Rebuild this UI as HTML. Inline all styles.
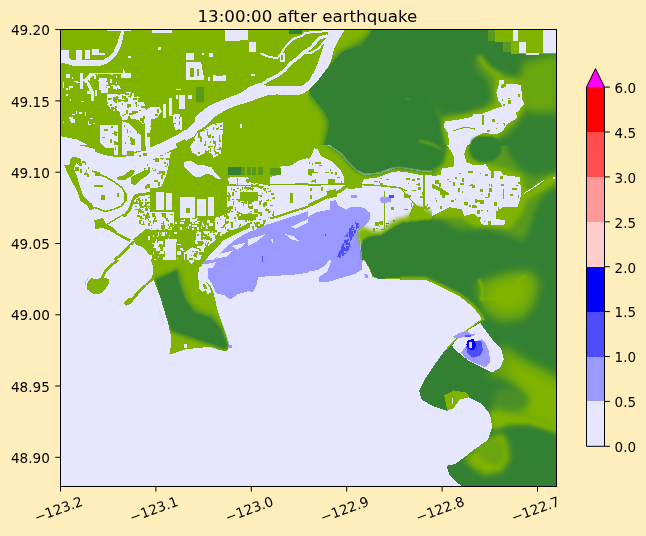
<!DOCTYPE html><html><head><meta charset="utf-8"><title>13:00:00 after earthquake</title><style>html,body{margin:0;padding:0;background:#ffeebb;}body{width:646px;height:536px;overflow:hidden}svg{display:block}text{font-family:"DejaVu Sans","Liberation Sans",sans-serif;fill:#000}</style></head><body>
<svg width="646" height="536" viewBox="0 0 646 536">
<defs><clipPath id="ax"><rect x="61" y="30" width="495" height="456"/></clipPath>
<filter id="bl1" x="-30%" y="-30%" width="160%" height="160%"><feGaussianBlur stdDeviation="1"/></filter>
<filter id="bl2" x="-30%" y="-30%" width="160%" height="160%"><feGaussianBlur stdDeviation="2"/></filter>
<filter id="bl3" x="-30%" y="-30%" width="160%" height="160%"><feGaussianBlur stdDeviation="3"/></filter>
<filter id="bl4" x="-30%" y="-30%" width="160%" height="160%"><feGaussianBlur stdDeviation="4"/></filter>
<filter id="bl6" x="-30%" y="-30%" width="160%" height="160%"><feGaussianBlur stdDeviation="6"/></filter>
<filter id="bl8" x="-30%" y="-30%" width="160%" height="160%"><feGaussianBlur stdDeviation="8"/></filter>
</defs>
<rect width="646" height="536" fill="#ffeebb"/>
<g clip-path="url(#ax)" shape-rendering="crispEdges">
<rect x="60" y="29" width="497" height="459" fill="#e6e6ff"/>
<clipPath id="t1"><rect x="60.0" y="30.0" width="124" height="115"/></clipPath><g clip-path="url(#t1)">
<rect x="60.0" y="30.0" width="124" height="115" fill="#80b300"/>
<polygon points="107.2,30.0 130.8,30.0 130.8,31.1 107.2,31.1" fill="#e6e6ff"/>
<polygon points="152.3,30.0 171.6,30.0 171.6,33.0 152.3,33.0" fill="#e6e6ff"/>
<polygon points="121.6,30.0 124.4,30.0 122.7,39.7 120.1,48.2 116.2,55.3 111.5,60.5 106.1,63.9 98.6,66.1 75.0,66.5 68.6,64.3 60.0,62.6 60.0,49.7 68.6,49.7 68.6,56.8 71.8,60.0 102.9,60.0 109.4,56.2 113.6,51.5 117.5,42.9 119.7,35.4" fill="#e6e6ff"/>
<rect x="76.1" y="49.7" width="5.4" height="10.3" fill="#e6e6ff"/>
<rect x="85.3" y="50.4" width="4.7" height="8.6" fill="#e6e6ff"/>
<rect x="92.2" y="48.9" width="6.9" height="6.4" fill="#e6e6ff"/>
<rect x="99.1" y="53.2" width="6.0" height="2.1" fill="#e6e6ff"/>
<rect x="157.6" y="47.2" width="3.2" height="2.6" fill="#e6e6ff"/>
<rect x="128.2" y="55.8" width="2.6" height="2.1" fill="#e6e6ff"/>
<rect x="80.4" y="72.9" width="2.8" height="16.1" fill="#e6e6ff"/>
<polygon points="83.2,80.4 90.0,72.9 92.2,72.9 92.2,76.1 85.8,83.6" fill="#e6e6ff"/>
<polygon points="85.8,81.5 89.0,81.5 94.3,92.2 94.3,100.8 91.1,100.8 91.1,94.4" fill="#e6e6ff"/>
<rect x="92.2" y="72.9" width="3.2" height="3.2" fill="#e6e6ff"/>
<rect x="98.6" y="78.3" width="7.5" height="16.1" fill="#e6e6ff"/>
<rect x="101.8" y="94.4" width="4.3" height="6.4" fill="#e6e6ff"/>
<rect x="95.4" y="72.5" width="25.8" height="1.3" fill="#e6e6ff"/>
<rect x="121.2" y="72.9" width="9.7" height="5.4" fill="#e6e6ff"/>
<rect x="62.6" y="81.5" width="1.3" height="6.4" fill="#e6e6ff"/>
<rect x="68.6" y="86.2" width="4.3" height="1.3" fill="#e6e6ff"/>
<rect x="116.9" y="84.7" width="2.1" height="3.2" fill="#e6e6ff"/>
<rect x="175.9" y="89.0" width="5.4" height="2.1" fill="#e6e6ff"/>
<polygon points="108.3,94.4 134.0,92.2 137.3,100.8 145.8,105.1 145.8,115.8 150.1,115.8 152.3,111.5 160.9,105.1 166.2,104.0 166.2,114.8 152.3,116.9 151.2,124.4 151.2,145.0 100.8,145.0 100.8,124.4 106.1,123.3 115.8,122.3 116.9,111.5 109.4,103.0" fill="#e6e6ff"/>
<path d="M113,101h2v2h-2zM113,98h3v1h-3zM140,126h1v3h-1zM122,113h1v3h-1zM132,123h1v3h-1zM102,130h4v3h-4zM124,126h1v1h-1zM109,128h1v2h-1zM138,110h3v2h-3zM116,136h2v2h-2zM149,137h1v4h-1zM137,104h4v1h-4zM133,124h3v1h-3zM113,136h2v1h-2zM123,116h2v1h-2zM134,136h1v4h-1zM141,117h2v2h-2zM148,124h2v1h-2zM141,103h1v1h-1zM112,135h2v1h-2zM105,123h1v2h-1zM148,142h1v1h-1zM125,120h2v2h-2zM124,94h2v4h-2zM108,94h2v3h-2zM153,111h3v3h-3zM105,136h2v2h-2zM124,127h2v1h-2zM126,125h2v1h-2zM109,137h2v1h-2zM121,96h2v2h-2zM125,104h2v4h-2zM110,143h2v2h-2zM139,114h1v2h-1zM139,130h1v2h-1zM119,110h2v2h-2zM117,135h3v1h-3zM114,105h4v1h-4zM122,137h1v2h-1zM118,110h4v1h-4zM124,109h4v1h-4zM135,103h3v1h-3zM153,112h1v2h-1zM125,105h2v2h-2zM140,122h2v1h-2zM105,125h1v4h-1zM112,134h2v3h-2zM139,121h3v2h-3zM126,103h1v1h-1zM143,111h4v3h-4zM141,115h3v4h-3zM138,140h1v2h-1zM143,130h4v4h-4zM137,133h2v1h-2zM101,139h3v2h-3zM128,127h1v1h-1zM127,131h1v3h-1zM161,106h2v1h-2zM133,116h2v4h-2zM120,140h1v3h-1zM164,112h1v3h-1zM139,129h1v3h-1zM136,104h2v1h-2zM161,104h1v4h-1zM142,115h2v1h-2zM137,123h2v4h-2zM124,120h2v4h-2zM138,143h2v1h-2zM115,108h2v4h-2zM108,94h2v4h-2zM143,119h2v2h-2zM125,142h1v2h-1zM145,115h4v3h-4zM115,139h2v1h-2zM147,123h1v4h-1zM140,137h1v2h-1zM142,110h2v2h-2zM127,123h2v4h-2zM154,109h4v3h-4zM140,108h1v2h-1zM118,103h1v4h-1zM140,102h3v2h-3zM119,121h2v1h-2zM123,129h2v1h-2zM115,118h3v1h-3zM148,140h3v2h-3zM123,114h2v2h-2zM116,108h2v4h-2zM127,93h1v3h-1zM124,128h1v2h-1zM106,135h1v2h-1zM113,133h1v3h-1zM135,130h3v2h-3zM123,115h1v1h-1zM136,144h2v2h-2zM128,131h1v2h-1zM118,107h2v4h-2zM137,133h3v3h-3zM118,134h1v1h-1zM136,121h2v2h-2zM147,141h2v2h-2zM135,101h2v4h-2zM113,144h3v2h-3zM107,133h3v2h-3zM115,130h2v1h-2zM134,120h1v2h-1zM130,116h2v1h-2zM129,92h1v4h-1zM132,136h3v2h-3zM103,126h1v4h-1zM144,105h2v2h-2zM113,95h2v1h-2zM128,114h1v2h-1zM142,125h4v1h-4zM109,122h1v2h-1zM133,120h3v2h-3zM109,138h2v2h-2zM129,120h1v4h-1zM117,128h4v2h-4zM110,101h2v1h-2zM112,101h1v1h-1zM129,131h3v2h-3zM131,121h3v1h-3zM122,116h1v2h-1zM151,117h2v1h-2zM129,96h1v2h-1zM138,139h1v4h-1zM146,129h4v3h-4zM144,137h2v2h-2zM130,136h2v4h-2zM142,109h3v3h-3zM123,133h2v1h-2zM135,117h1v2h-1zM114,101h4v1h-4zM126,96h3v1h-3zM135,116h2v2h-2zM164,104h1v3h-1zM141,114h1v2h-1zM102,138h1v2h-1zM133,112h4v1h-4zM133,94h3v2h-3zM148,140h2v1h-2zM125,120h3v2h-3zM135,127h1v4h-1zM106,123h3v1h-3zM121,144h1v1h-1zM145,123h1v2h-1zM128,103h1v2h-1zM131,112h4v2h-4zM113,122h4v2h-4zM103,131h3v1h-3zM129,138h1v1h-1zM130,143h2v2h-2zM138,129h1v1h-1zM132,99h4v3h-4zM138,122h1v4h-1zM139,124h1v3h-1zM137,133h1v2h-1zM157,109h1v1h-1zM129,108h2v3h-2zM126,126h2v4h-2zM111,121h1v4h-1zM140,136h3v1h-3zM113,139h1v2h-1zM101,124h4v1h-4zM155,113h1v4h-1zM111,102h2v4h-2zM136,139h4v2h-4zM108,129h1v2h-1zM132,129h2v2h-2zM130,100h4v2h-4zM125,136h1v2h-1zM132,115h1v4h-1zM136,111h4v4h-4zM120,101h1v3h-1zM115,104h4v4h-4zM139,110h2v1h-2zM127,118h3v3h-3zM117,142h1v1h-1zM127,95h3v1h-3zM107,135h3v3h-3zM104,125h3v3h-3zM132,133h3v2h-3zM121,97h3v2h-3zM126,138h1v4h-1zM122,98h3v2h-3zM124,121h3v4h-3zM123,97h4v1h-4zM101,124h1v2h-1zM134,141h4v2h-4zM111,134h4v1h-4zM148,139h3v4h-3zM137,127h4v4h-4z" fill="#80b300"/>
<polygon points="151.2,116.9 167.3,114.8 169.4,98.7 172.7,98.7 172.7,115.8 184.0,115.8 184.0,135.2 180.2,137.3 151.2,137.3" fill="#e6e6ff"/>
<path d="M156,132h1v1h-1zM177,136h3v1h-3zM169,109h2v2h-2zM178,117h3v1h-3zM179,116h1v1h-1zM161,127h2v2h-2zM153,127h2v4h-2zM161,136h2v2h-2zM154,121h4v1h-4zM151,121h1v1h-1zM162,117h1v3h-1zM172,118h2v1h-2zM183,131h2v1h-2zM171,113h3v4h-3zM165,131h1v4h-1zM157,133h3v2h-3zM182,126h2v2h-2zM176,127h1v1h-1zM159,120h2v2h-2zM159,129h4v3h-4zM167,126h4v1h-4zM175,134h1v2h-1zM160,128h4v1h-4zM167,118h1v2h-1zM155,120h4v1h-4zM174,134h1v3h-1zM178,125h1v4h-1zM178,129h1v1h-1zM173,125h4v1h-4zM152,119h2v1h-2zM157,123h4v1h-4zM152,120h1v2h-1zM178,127h3v2h-3zM165,131h2v2h-2zM160,130h1v1h-1zM164,128h1v3h-1zM170,122h2v2h-2zM152,128h4v2h-4zM173,120h2v4h-2zM169,123h1v4h-1zM172,116h2v1h-2zM174,132h1v3h-1zM151,120h4v1h-4zM176,130h4v2h-4zM179,134h2v1h-2zM175,120h1v2h-1zM167,134h1v2h-1zM151,119h2v1h-2zM156,126h1v4h-1zM176,130h4v2h-4zM176,132h4v4h-4zM176,135h4v3h-4zM172,117h2v3h-2zM176,122h1v3h-1zM170,99h1v2h-1zM164,123h1v2h-1zM166,130h2v2h-2zM164,123h1v1h-1zM176,129h3v1h-3zM175,126h1v2h-1zM177,125h2v1h-2zM166,127h1v3h-1zM164,122h3v3h-3zM163,126h1v1h-1zM168,122h1v2h-1zM171,106h2v2h-2zM159,127h2v2h-2z" fill="#80b300"/>
<path d="M66,88h2v2h-2zM118,86h2v2h-2zM72,77h1v2h-1zM106,86h2v1h-2zM118,91h1v4h-1zM105,109h2v2h-2zM111,85h3v1h-3zM94,75h2v4h-2zM73,114h2v1h-2zM118,88h3v1h-3zM69,88h1v2h-1zM104,82h4v3h-4zM121,91h3v1h-3zM76,82h4v1h-4zM116,89h1v4h-1zM93,123h3v1h-3zM81,101h3v1h-3zM99,101h4v1h-4zM103,115h2v2h-2zM98,80h3v1h-3zM103,78h4v3h-4zM107,86h3v2h-3zM105,90h4v4h-4zM110,79h2v4h-2zM87,92h4v2h-4zM107,109h2v1h-2zM74,81h4v1h-4zM99,95h2v2h-2zM111,74h2v1h-2zM109,93h4v3h-4zM83,79h2v2h-2zM79,112h3v2h-3zM113,86h4v3h-4zM66,94h2v2h-2zM116,76h1v2h-1zM116,82h1v2h-1zM116,90h4v1h-4zM71,119h4v4h-4zM72,114h2v1h-2zM85,112h1v4h-1zM89,79h1v2h-1zM70,117h2v4h-2zM89,124h2v1h-2zM96,96h1v1h-1zM69,117h4v2h-4zM80,86h1v1h-1zM88,121h1v4h-1zM97,73h1v2h-1zM68,76h2v2h-2zM105,96h2v3h-2zM115,98h1v2h-1zM70,99h1v2h-1zM87,91h4v1h-4zM66,74h4v4h-4zM106,88h2v2h-2zM85,79h2v2h-2zM63,122h1v1h-1zM97,123h1v4h-1zM90,118h3v1h-3zM113,85h2v4h-2zM123,69h1v4h-1zM71,122h1v1h-1zM123,71h2v3h-2zM96,98h2v1h-2zM103,95h3v1h-3zM76,111h1v3h-1z" fill="#e6e6ff"/>
<polygon points="60.0,136.2 77.2,139.4 87.9,145.0 60.0,145.0" fill="#e6e6ff"/>
<polygon points="151.2,137.3 180.2,137.3 184.0,135.2 184.0,145.0 151.2,145.0" fill="#e6e6ff"/>
</g>
<clipPath id="t2"><rect x="60.0" y="145.0" width="124" height="115"/></clipPath><g clip-path="url(#t2)">
<rect x="60.0" y="145.0" width="124" height="115" fill="#e6e6ff"/>
<polygon points="78.2,145.0 102.9,145.0 114.7,151.4 113.6,155.7 108.3,154.7 96.5,149.3 85.8,146.7" fill="#80b300"/>
<rect x="117.5" y="145.0" width="6.9" height="10.7" fill="#80b300"/>
<polygon points="126.5,152.5 134.0,150.4 137.3,152.5 135.1,155.7 126.5,155.7" fill="#80b300"/>
<polygon points="142.6,145.0 148.0,145.0 145.8,149.3 141.5,150.4" fill="#80b300"/>
<rect x="108.3" y="147.1" width="5.4" height="6.4" fill="#80b300"/>
<polygon points="64.3,165.4 69.7,164.3 70.7,157.9 75.0,156.8 81.5,158.9 80.4,163.2 76.1,163.2 73.9,168.6 77.2,177.2 80.4,187.9 83.6,196.5 92.2,204.0 94.3,208.3 90.0,210.5 86.8,205.1 80.4,200.8 77.2,191.1 71.8,181.5 67.5,172.9" fill="#80b300"/>
<path d="M80,164h1v2h-1zM78,164h2v1h-2zM88,167h1v2h-1zM79,163h3v3h-3zM95,174h2v2h-2zM87,174h2v3h-2zM96,172h4v4h-4zM77,162h1v2h-1zM80,171h2v2h-2zM80,169h2v3h-2zM78,162h1v1h-1zM85,162h1v3h-1zM86,170h1v2h-1zM75,167h4v4h-4zM84,173h4v2h-4zM82,161h3v2h-3zM85,172h1v1h-1zM95,171h2v4h-2z" fill="#80b300"/>
<polyline points="92.2,170.8 98.6,174.0 106.1,177.2 113.6,181.5 122.2,187.9 126.1,194.4 125.5,200.8 121.2,206.2 113.6,209.4 105.1,211.5 100.8,209.8 94.3,207.2" fill="none" stroke="#80b300" stroke-width="1.6"/>
<rect x="94.3" y="185.1" width="8.6" height="1.7" fill="#80b300"/>
<rect x="100.8" y="195.4" width="4.3" height="4.3" fill="#80b300"/>
<rect x="116.9" y="193.3" width="2.1" height="3.2" fill="#80b300"/>
<rect x="123.7" y="193.3" width="2.8" height="7.5" fill="#80b300"/>
<polygon points="116.9,177.2 124.4,175.0 130.8,169.7 135.1,170.8 133.0,175.0 124.4,180.4 117.9,180.4" fill="#80b300"/>
<polygon points="130.8,177.2 139.4,172.9 145.8,169.7 151.2,170.8 148.0,175.0 141.5,179.3 135.1,185.8 130.8,183.6" fill="#80b300"/>
<polygon points="145.8,184.7 152.3,183.6 150.1,187.9 144.8,189.0" fill="#80b300"/>
<path d="M163,160h2v2h-2zM165,158h2v1h-2zM164,157h1v1h-1zM161,162h1v2h-1zM142,159h3v1h-3zM160,155h4v2h-4zM145,157h3v4h-3zM161,167h1v1h-1zM162,167h2v3h-2zM157,160h1v4h-1zM149,163h1v1h-1zM147,158h2v3h-2zM137,159h4v3h-4zM151,160h2v1h-2zM140,164h1v4h-1zM154,165h2v2h-2zM161,163h2v2h-2zM165,155h4v1h-4zM155,159h1v1h-1zM140,157h2v1h-2zM139,160h1v1h-1zM154,167h1v2h-1zM156,155h1v3h-1zM141,156h2v2h-2zM146,158h3v1h-3zM154,165h3v2h-3zM140,161h1v4h-1zM155,159h4v1h-4zM165,161h3v2h-3zM166,153h2v1h-2zM154,154h2v2h-2zM146,165h1v4h-1zM154,162h1v3h-1zM154,158h1v4h-1zM163,168h3v1h-3zM138,160h2v1h-2zM153,155h1v4h-1zM165,152h1v1h-1zM156,167h3v3h-3zM150,155h2v2h-2zM155,164h1v1h-1zM165,156h4v3h-4z" fill="#80b300"/>
<polygon points="184.0,151.4 175.9,152.5 169.4,157.9 166.2,166.5 165.2,177.2 167.3,183.6 160.9,187.9 154.4,191.1 145.8,192.6 135.1,193.9 131.9,198.6 129.1,207.2 124.4,214.1 122.7,216.2 124.8,217.5 130.8,210.5 134.7,199.7 139.8,196.1 150.1,194.8 160.9,193.3 167.3,191.1 171.6,207.2 184.0,209.4" fill="#80b300"/>
<rect x="175.9" y="196.5" width="2.6" height="12.9" fill="#e6e6ff"/>
<path d="M145,218h1v2h-1zM136,200h1v1h-1zM140,216h2v2h-2zM180,205h3v2h-3zM147,206h4v1h-4zM172,217h2v2h-2zM182,210h4v1h-4zM160,216h1v3h-1zM179,207h1v2h-1zM138,210h4v2h-4zM142,209h1v1h-1zM139,209h2v1h-2zM156,217h1v1h-1zM163,220h1v2h-1zM145,203h2v2h-2zM168,219h1v1h-1zM148,197h3v1h-3zM134,202h3v2h-3zM147,212h1v1h-1zM148,197h3v1h-3zM140,218h4v1h-4zM176,220h2v2h-2zM153,217h2v2h-2zM138,198h2v3h-2zM172,203h4v3h-4zM159,208h4v1h-4zM148,206h1v2h-1zM173,216h1v2h-1zM161,213h2v4h-2zM153,226h1v4h-1zM148,202h3v1h-3zM166,197h2v1h-2zM143,221h1v4h-1zM172,201h2v1h-2zM180,199h2v1h-2zM140,206h4v2h-4zM143,206h1v1h-1zM153,228h2v1h-2zM148,223h2v3h-2zM172,214h3v2h-3zM164,201h1v2h-1zM158,226h2v4h-2zM140,210h2v3h-2zM161,221h3v3h-3zM178,211h1v1h-1zM161,216h4v1h-4zM169,222h2v1h-2zM164,221h1v1h-1zM154,206h2v4h-2zM159,223h2v1h-2zM179,219h2v2h-2zM179,218h3v2h-3zM135,209h4v1h-4zM164,219h3v2h-3zM162,209h1v1h-1zM165,218h1v4h-1zM148,219h1v2h-1zM163,212h2v2h-2zM179,211h2v4h-2zM137,215h3v2h-3zM175,213h4v4h-4zM181,203h1v2h-1zM166,211h3v4h-3zM169,222h1v2h-1zM182,207h1v4h-1zM151,227h3v2h-3zM136,199h3v1h-3zM162,205h3v2h-3zM138,211h1v3h-1zM182,212h1v3h-1zM169,220h2v4h-2zM174,216h1v2h-1zM155,200h3v2h-3zM179,201h2v2h-2zM173,200h1v2h-1zM157,213h2v1h-2zM140,220h2v1h-2zM179,202h3v2h-3zM162,223h4v2h-4zM152,225h1v3h-1zM177,206h2v1h-2zM162,222h2v3h-2zM162,215h2v1h-2zM172,204h2v1h-2zM145,215h3v4h-3zM171,215h1v4h-1zM164,212h2v2h-2zM165,200h2v2h-2zM145,199h2v2h-2zM181,199h1v1h-1zM154,227h4v3h-4zM152,214h3v3h-3zM136,201h2v2h-2zM166,206h4v4h-4zM165,225h2v2h-2zM164,211h2v4h-2zM157,207h1v3h-1zM144,205h2v2h-2zM152,207h4v1h-4zM174,222h2v1h-2zM157,219h1v3h-1zM151,207h2v3h-2zM153,220h2v3h-2zM155,219h2v3h-2zM151,204h4v2h-4zM146,203h1v2h-1zM158,226h1v1h-1zM163,221h1v2h-1zM148,224h2v1h-2zM175,197h1v4h-1zM152,226h2v4h-2zM147,213h3v4h-3zM174,200h2v1h-2zM177,210h1v1h-1zM139,208h1v2h-1zM136,203h3v1h-3zM174,208h2v1h-2zM149,208h2v1h-2zM148,214h2v4h-2zM168,198h1v3h-1zM183,202h1v2h-1zM168,212h1v2h-1zM175,216h4v4h-4zM167,214h1v4h-1zM166,221h2v2h-2zM159,211h4v2h-4zM141,224h4v1h-4zM149,212h3v2h-3zM157,200h2v2h-2zM168,206h2v1h-2zM146,214h2v1h-2zM175,219h2v3h-2zM142,199h1v2h-1zM150,215h3v1h-3zM145,202h4v2h-4zM161,219h2v2h-2zM180,202h1v2h-1zM145,216h2v2h-2zM175,219h1v1h-1zM178,212h1v2h-1zM182,214h1v1h-1zM167,209h4v2h-4zM160,213h3v3h-3zM157,206h1v1h-1zM181,216h3v1h-3zM155,204h3v4h-3zM139,220h2v4h-2zM146,205h1v4h-1zM168,211h1v1h-1zM142,211h2v2h-2zM158,201h1v2h-1zM141,202h2v2h-2zM139,202h3v4h-3zM180,217h4v2h-4zM176,210h1v2h-1zM163,207h2v4h-2zM165,218h1v4h-1zM162,219h2v2h-2zM173,209h1v3h-1zM177,214h2v3h-2zM166,222h1v3h-1zM150,227h1v1h-1zM139,205h2v1h-2zM156,211h1v2h-1zM167,227h2v2h-2zM175,211h4v2h-4zM149,221h1v1h-1zM139,200h2v2h-2zM133,203h3v1h-3zM154,218h1v4h-1zM150,202h1v2h-1zM165,215h2v4h-2zM170,205h2v2h-2zM135,206h2v1h-2zM171,225h2v2h-2zM146,203h1v2h-1zM145,208h3v3h-3zM143,214h2v2h-2zM166,223h2v1h-2zM153,202h4v4h-4z" fill="#80b300"/>
<rect x="149.1" y="209.4" width="5.4" height="6.4" fill="#e6e6ff"/>
<polygon points="133.0,239.4 145.8,229.1 184.0,226.5 184.0,260.0 143.7,260.0" fill="#80b300"/>
<path d="M183,229h2v2h-2zM171,256h1v2h-1zM169,247h3v3h-3zM161,235h4v1h-4zM180,228h2v1h-2zM173,247h3v2h-3zM162,232h1v2h-1zM167,240h2v2h-2zM148,255h4v4h-4zM148,236h2v4h-2zM156,243h3v3h-3zM156,247h4v4h-4zM160,251h4v3h-4zM175,239h2v2h-2zM170,250h2v4h-2zM177,258h1v1h-1zM158,233h1v3h-1zM176,228h3v3h-3zM157,236h1v1h-1zM172,245h2v3h-2zM165,258h4v4h-4zM168,238h1v3h-1zM155,241h1v2h-1zM182,250h4v1h-4zM160,233h1v1h-1zM159,253h2v1h-2zM152,243h3v1h-3zM169,231h4v1h-4zM162,233h1v2h-1zM175,250h1v2h-1zM160,249h1v1h-1zM153,247h1v1h-1zM174,232h3v2h-3zM155,243h4v2h-4zM149,231h2v1h-2zM168,228h3v4h-3zM150,256h1v2h-1zM149,257h2v1h-2zM163,257h3v4h-3zM172,248h3v1h-3zM177,251h4v4h-4zM153,235h1v2h-1zM163,232h2v4h-2zM163,247h4v4h-4zM169,235h1v1h-1zM158,256h1v1h-1zM165,259h2v1h-2zM156,245h2v2h-2zM169,256h4v2h-4zM175,241h2v1h-2zM154,244h3v4h-3zM156,239h1v4h-1zM179,229h3v1h-3zM174,255h1v1h-1zM180,248h3v2h-3zM154,259h2v2h-2zM153,252h1v2h-1zM158,232h1v2h-1zM155,245h1v1h-1zM166,232h1v2h-1zM177,244h4v1h-4zM169,251h2v1h-2zM162,241h1v4h-1z" fill="#e6e6ff"/>
<rect x="165.2" y="239.4" width="10.7" height="20.6" fill="#e6e6ff"/>
<rect x="157.6" y="240.5" width="5.8" height="3.2" fill="#e6e6ff"/>
<polyline points="144.8,231.9 184.0,230.8" fill="none" stroke="#80b300" stroke-width="1.5"/>
<polygon points="94.3,220.1 102.9,218.0 106.1,224.4 113.6,227.6 117.9,233.0 130.8,239.4 129.7,242.0 117.9,235.6 109.4,230.2 102.9,228.0 95.4,229.1" fill="#80b300"/>
<polyline points="134.0,242.0 124.4,251.2 114.7,260.0" fill="none" stroke="#80b300" stroke-width="2.8"/>
<polyline points="124.4,214.1 115.8,219.0 106.1,224.8" fill="none" stroke="#80b300" stroke-width="1.3"/>
</g>
<clipPath id="t3"><rect x="184.0" y="30.0" width="124" height="115"/></clipPath><g clip-path="url(#t3)">
<rect x="184.0" y="30.0" width="124" height="115" fill="#80b300"/>
<rect x="224.8" y="30.0" width="23.2" height="10.7" fill="#e6e6ff"/>
<rect x="248.8" y="41.8" width="7.1" height="10.7" fill="#e6e6ff"/>
<rect x="186.1" y="53.2" width="8.2" height="6.4" fill="#e6e6ff"/>
<polygon points="186.1,62.2 201.2,62.2 204.4,80.4 186.1,80.4" fill="#e6e6ff"/>
<rect x="190.4" y="67.6" width="3.2" height="9.7" fill="#80b300"/>
<rect x="196.9" y="68.6" width="2.1" height="7.5" fill="#80b300"/>
<rect x="202.2" y="52.5" width="2.1" height="2.1" fill="#e6e6ff"/>
<rect x="208.7" y="53.2" width="4.3" height="3.6" fill="#e6e6ff"/>
<rect x="213.0" y="75.1" width="12.9" height="5.8" fill="#e6e6ff"/>
<rect x="216.2" y="72.9" width="6.4" height="3.2" fill="#80b300"/>
<rect x="207.6" y="77.2" width="2.6" height="3.6" fill="#e6e6ff"/>
<rect x="250.5" y="74.6" width="4.7" height="1.3" fill="#e6e6ff"/>
<rect x="259.1" y="83.6" width="2.6" height="2.6" fill="#e6e6ff"/>
<rect x="195.8" y="86.9" width="8.6" height="15.0" fill="#5a9a1a"/>
<rect x="289.2" y="30.0" width="12.9" height="4.3" fill="#338033"/>
<polygon points="184.0,128.3 190.4,122.3 199.0,113.7 207.6,106.8 216.2,102.5 226.9,98.2 239.8,93.3 248.4,89.0 253.7,84.7 258.0,82.6 265.5,86.2 278.4,86.9 295.6,86.2 308.0,86.2 308.0,94.4 299.9,95.5 287.0,94.4 276.3,93.9 265.5,96.5 257.0,100.8 248.4,104.0 237.6,105.1 226.9,109.4 216.2,115.8 207.6,124.4 196.9,131.9 188.3,137.3 184.0,139.4" fill="#e6e6ff"/>
<polygon points="258.0,82.6 269.8,77.6 278.4,72.9 284.9,69.7 289.2,64.3 294.5,56.8 301.0,50.4 308.0,45.5 308.0,51.5 303.1,54.7 297.7,61.1 293.4,67.6 288.1,74.0 280.6,78.3 274.1,82.6 267.7,86.2" fill="#e6e6ff"/>
<polyline points="261.3,53.6 269.8,56.8 278.4,59.0 282.7,55.3 286.6,51.5 291.3,45.0 296.7,38.6 303.1,35.4 308.5,34.3" fill="none" stroke="#e6e6ff" stroke-width="2.0"/>
<rect x="281.6" y="53.6" width="3.2" height="5.4" fill="#e6e6ff"/>
<polygon points="188.3,139.4 196.9,133.0 205.5,128.7 211.9,124.4 222.6,122.3 222.6,135.2 235.5,134.1 235.5,145.0 188.3,145.0" fill="#e6e6ff"/>
<path d="M212,132h3v2h-3zM213,128h1v3h-1zM211,139h1v2h-1zM218,143h2v1h-2zM212,137h1v1h-1zM214,133h1v2h-1zM229,144h2v2h-2zM220,144h2v1h-2zM214,130h2v3h-2zM218,136h3v1h-3zM234,137h1v1h-1zM234,137h2v1h-2zM200,133h1v4h-1zM205,141h3v4h-3zM219,131h2v2h-2zM224,143h1v1h-1zM207,132h2v4h-2zM217,139h4v2h-4zM194,136h3v1h-3zM211,131h4v1h-4zM207,142h2v3h-2zM231,135h1v2h-1zM218,127h1v2h-1zM206,144h3v1h-3zM229,142h4v2h-4zM234,143h2v2h-2zM197,133h4v1h-4zM193,136h1v2h-1zM216,128h2v2h-2zM216,129h2v2h-2zM227,134h3v4h-3zM202,137h4v3h-4zM188,143h1v1h-1zM218,135h1v2h-1zM202,141h4v2h-4zM199,131h1v2h-1zM220,129h3v1h-3zM218,130h2v2h-2zM223,143h2v2h-2zM227,139h1v2h-1zM220,125h2v2h-2zM206,144h3v2h-3zM195,137h2v2h-2zM213,127h1v1h-1zM220,139h4v4h-4zM231,142h1v1h-1zM222,144h4v1h-4zM215,124h2v1h-2zM193,143h1v3h-1zM233,135h3v2h-3zM193,136h1v2h-1zM205,133h3v1h-3zM221,138h1v3h-1zM206,129h2v3h-2zM199,133h3v2h-3zM224,138h2v1h-2z" fill="#80b300"/>
<polygon points="184.0,109.0 189.4,110.5 191.5,114.8 186.1,118.0 184.0,116.9" fill="#e6e6ff"/>
<rect x="240.2" y="124.4" width="1.7" height="3.2" fill="#e6e6ff"/>
</g>
<clipPath id="t4"><rect x="308.0" y="30.0" width="124" height="115"/></clipPath><g clip-path="url(#t4)">
<rect x="308.0" y="30.0" width="124" height="115" fill="#80b300"/>
<polygon points="376.7,21.4 441.0,21.4 441.0,154.5 320.9,154.5 326.2,130.9 327.3,120.1 321.9,111.5 315.5,103.0 309.1,94.4 306.9,87.9 313.4,80.4 324.1,70.8 334.8,57.9 341.3,51.5 349.8,47.2 360.6,41.8 369.2,33.2" fill="#338033" filter="url(#bl3)"/>
<polygon points="372.4,28.9 432.0,28.9 432.0,145.9 324.1,145.9 328.4,130.9 329.0,120.1 324.1,111.5 317.7,103.0 310.6,94.4 308.6,88.4 314.9,80.9 325.6,71.2 336.3,58.3 342.8,51.9 351.3,48.7 362.1,45.5 368.5,36.9" fill="#338033"/>
<polygon points="328.4,30.0 343.4,30.0 338.0,38.6 333.8,49.3 329.5,60.0 324.1,70.8 316.6,78.3 308.0,86.9 308.0,80.4 313.4,75.1 318.7,66.5 323.0,55.8 326.2,42.9" fill="#e6e6ff"/>
<polyline points="306.9,48.9 313.4,43.9 318.7,39.7 326.2,38.2" fill="none" stroke="#e6e6ff" stroke-width="3.0"/>
<polyline points="306.9,36.4 312.3,34.7 317.7,32.1 323.0,30.0" fill="none" stroke="#e6e6ff" stroke-width="2.0"/>
<polyline points="306.9,54.7 312.3,51.0 320.9,42.9" fill="none" stroke="#e6e6ff" stroke-width="1.5"/>
<polygon points="405.6,98.2 415.3,103.0 422.8,106.8 426.0,102.1 432.0,100.0 432.0,102.5 426.5,104.7 423.5,109.4 414.9,105.5 405.6,100.8" fill="#6aa60d" filter="url(#bl1)"/>
<polygon points="419.6,139.4 432.0,137.3 432.0,145.0 419.6,145.0" fill="#5a9a1a" filter="url(#bl1)"/>
</g>
<clipPath id="t5"><rect x="432.0" y="30.0" width="124" height="115"/></clipPath><g clip-path="url(#t5)">
<rect x="432.0" y="30.0" width="124" height="115" fill="#338033"/>
<polygon points="474.9,57.9 485.6,68.6 500.7,72.9 522.1,79.4 535.0,71.8 558.6,60.0 558.6,92.2 535.0,99.7 524.3,111.5 517.8,124.4 505.0,137.3 474.9,147.0 444.9,147.0 436.3,122.3 429.9,100.8 440.6,115.8 464.2,114.8 486.7,106.2 493.2,94.4 486.7,79.4 476.0,68.6" fill="#5a9a1a" filter="url(#bl3)"/>
<polygon points="496.4,76.1 524.3,80.4 526.4,103.0 520.0,115.8 507.1,128.7 496.4,137.3 468.5,147.0 444.9,147.0 440.6,124.4 444.9,118.0 472.8,112.6 485.6,109.4 496.4,103.0 494.2,90.1" fill="#80b300" filter="url(#bl2)"/>
<polygon points="524.3,62.2 558.6,53.6 558.6,111.5 526.4,111.5 523.2,94.4 517.8,81.5" fill="#6aa60d" filter="url(#bl4)"/>
<polygon points="476.0,56.8 481.4,55.8 489.9,66.5 502.8,76.1 498.5,78.3 485.6,69.7" fill="#80b300" filter="url(#bl2)"/>
<rect x="487.8" y="30.0" width="7.5" height="10.7" fill="#5a9a1a"/>
<rect x="502.8" y="41.8" width="8.6" height="9.7" fill="#5a9a1a"/>
<rect x="495.3" y="30.0" width="60.7" height="11.8" fill="#80b300"/>
<rect x="511.4" y="41.8" width="44.6" height="11.8" fill="#80b300"/>
<rect x="512.5" y="30.0" width="5.4" height="10.7" fill="#e6e6ff"/>
<rect x="518.9" y="41.8" width="7.1" height="10.7" fill="#e6e6ff"/>
<rect x="526.0" y="52.5" width="12.9" height="2.1" fill="#e6e6ff"/>
<rect x="542.9" y="30.0" width="13.1" height="22.5" fill="#e6e6ff"/>
<polygon points="499.6,79.8 503.9,79.8 503.9,83.6 521.1,84.7 522.1,98.7 524.3,104.0 517.8,111.5 516.8,118.0 507.1,124.4 502.8,130.9 496.4,134.1 483.5,133.0 474.9,137.3 468.5,145.0 449.2,145.0 448.1,133.0 443.8,126.6 444.9,121.2 455.6,120.1 471.7,116.9 473.8,113.7 482.4,113.7 487.8,111.5 502.8,106.2 498.5,100.8 496.4,92.2 498.5,85.8" fill="#e6e6ff"/>
<path d="M497,123h1v1h-1zM503,123h2v1h-2zM504,124h1v2h-1zM508,98h2v1h-2zM487,130h3v2h-3zM516,112h3v3h-3zM503,104h2v2h-2zM496,128h1v1h-1zM492,119h3v3h-3zM502,99h1v2h-1zM502,84h4v3h-4zM518,94h2v3h-2zM508,100h3v4h-3z" fill="#80b300"/>
<polyline points="453.5,130.9 459.9,128.7 466.3,127.0 474.9,129.1" fill="none" stroke="#80b300" stroke-width="1.0"/>
<rect x="501.1" y="84.7" width="2.6" height="3.6" fill="#80b300"/>
<rect x="481.8" y="114.8" width="1.7" height="9.7" fill="#80b300"/>
</g>
<clipPath id="t6"><rect x="184.0" y="145.0" width="124" height="115"/></clipPath><g clip-path="url(#t6)">
<rect x="184.0" y="145.0" width="124" height="115" fill="#e6e6ff"/>
<polygon points="223.7,145.0 308.0,145.0 308.0,157.9 299.9,160.0 291.3,165.4 280.6,166.5 278.4,175.0 269.8,177.2 268.8,184.7 252.7,184.7 248.4,179.3 229.1,177.2 223.7,170.8" fill="#80b300"/>
<rect x="228.0" y="166.5" width="13.5" height="8.6" fill="#338033"/>
<rect x="241.5" y="166.5" width="21.9" height="8.6" fill="#5a9a1a"/>
<rect x="246.2" y="166.5" width="2.1" height="8.6" fill="#80b300"/>
<rect x="252.7" y="166.5" width="1.7" height="8.6" fill="#80b300"/>
<rect x="258.0" y="166.5" width="1.1" height="8.6" fill="#80b300"/>
<rect x="269.8" y="167.5" width="10.7" height="7.5" fill="#5a9a1a"/>
<polyline points="225.8,184.7 308.0,184.3" fill="none" stroke="#80b300" stroke-width="1.7"/>
<rect x="223.7" y="164.3" width="5.4" height="36.5" fill="#80b300"/>
<polygon points="184.0,164.3 196.9,175.0 211.9,179.3 225.8,180.4 226.9,198.6 216.2,199.7 184.0,197.6" fill="#80b300"/>
<polygon points="184.0,218.0 216.2,218.0 216.2,230.8 196.9,230.8 194.7,245.9 184.0,252.3" fill="#80b300"/>
<rect x="184.0" y="197.6" width="2.1" height="20.4" fill="#80b300"/>
<rect x="194.7" y="197.6" width="2.1" height="20.4" fill="#80b300"/>
<rect x="205.5" y="197.6" width="2.1" height="20.4" fill="#80b300"/>
<rect x="215.1" y="197.6" width="2.1" height="20.4" fill="#80b300"/>
<polyline points="308.0,206.6 291.3,212.0 278.4,216.2 269.8,218.4 257.0,221.6 244.1,225.9 233.4,229.1 226.9,233.4 220.5,242.0 211.9,250.6 203.3,260.9" fill="none" stroke="#80b300" stroke-width="2.2"/>
<polygon points="239.8,191.1 259.1,191.1 259.1,201.9 248.4,201.9 239.8,197.6" fill="#80b300"/>
<rect x="241.9" y="205.1" width="10.7" height="4.3" fill="#80b300"/>
<polygon points="240.9,213.7 257.0,213.7 257.0,220.1 240.9,221.2" fill="#80b300"/>
<polygon points="226.9,213.7 237.6,211.5 237.6,226.5 226.9,230.8" fill="#80b300"/>
<path d="M261,220h3v1h-3zM256,216h2v2h-2zM272,198h3v1h-3zM257,205h2v4h-2zM246,206h1v3h-1zM263,220h2v1h-2zM256,194h2v3h-2zM229,212h4v4h-4zM243,207h4v1h-4zM273,197h2v1h-2zM271,218h2v1h-2zM234,192h1v4h-1zM242,194h4v2h-4zM233,190h3v2h-3zM233,224h4v1h-4zM231,222h2v3h-2zM233,198h2v4h-2zM247,190h1v3h-1zM251,209h4v2h-4zM229,191h4v2h-4zM273,211h1v3h-1zM236,217h1v1h-1zM270,205h3v1h-3zM250,195h4v1h-4zM244,189h1v1h-1zM249,190h2v1h-2zM262,208h1v3h-1zM266,201h2v1h-2zM250,198h1v4h-1zM243,207h1v1h-1zM268,202h1v1h-1zM271,193h3v2h-3zM250,195h4v1h-4zM232,210h3v1h-3zM228,192h1v1h-1zM247,192h1v2h-1zM257,209h2v2h-2zM270,190h1v2h-1zM257,215h4v2h-4zM229,204h3v3h-3zM243,220h1v3h-1zM247,194h4v2h-4zM270,200h1v1h-1zM269,211h2v1h-2zM237,195h2v2h-2zM232,218h1v1h-1zM230,203h1v3h-1zM249,206h2v2h-2zM257,198h4v1h-4zM234,208h1v2h-1zM228,187h2v1h-2zM245,221h4v1h-4zM243,215h1v3h-1zM245,194h2v1h-2zM250,215h4v1h-4zM254,197h4v2h-4zM251,198h1v4h-1zM249,186h4v3h-4zM228,188h4v2h-4zM250,216h3v2h-3zM255,201h4v2h-4zM232,197h1v3h-1zM250,207h2v2h-2zM256,188h2v2h-2zM238,207h3v1h-3zM260,194h2v4h-2zM272,214h2v2h-2zM260,217h2v3h-2zM227,214h1v4h-1zM256,186h4v1h-4zM249,205h2v1h-2zM244,201h1v2h-1zM247,193h2v3h-2z" fill="#80b300"/>
<rect x="290.2" y="193.3" width="3.2" height="9.7" fill="#80b300"/>
<path d="M206,236h4v4h-4zM215,235h3v1h-3zM191,255h1v1h-1zM197,234h2v2h-2zM185,257h2v3h-2zM196,244h4v2h-4zM201,236h2v4h-2zM208,249h3v2h-3zM203,242h1v2h-1zM202,237h4v2h-4zM204,238h1v2h-1zM193,244h4v4h-4zM214,242h1v1h-1zM189,258h4v2h-4zM185,254h2v3h-2zM206,245h2v4h-2zM202,238h1v1h-1zM193,255h1v1h-1zM197,241h3v1h-3zM206,255h1v1h-1zM207,244h1v3h-1zM210,238h2v3h-2zM208,249h2v1h-2zM185,258h2v3h-2zM194,253h3v4h-3zM204,248h4v2h-4zM197,234h1v2h-1zM211,244h1v2h-1zM192,251h2v1h-2zM197,248h3v1h-3zM199,231h2v1h-2zM205,247h3v1h-3zM209,252h1v1h-1zM203,257h3v3h-3zM185,251h1v1h-1zM196,245h1v4h-1zM217,235h3v2h-3zM202,252h4v1h-4zM203,255h1v3h-1zM208,247h1v1h-1zM207,243h2v1h-2zM218,233h2v2h-2zM210,248h2v1h-2zM201,257h4v1h-4zM192,258h1v1h-1zM215,241h2v1h-2z" fill="#80b300"/>
<polygon points="308.0,211.1 299.9,214.1 291.3,216.9 278.4,221.0 265.5,225.3 254.8,229.5 246.2,233.4 237.6,238.1 229.1,244.6 220.5,252.7 214.0,260.0 308.0,260.0" fill="#9999ff"/>
<polygon points="291.3,226.5 308.0,219.0 308.0,222.3 295.6,228.7" fill="#e6e6ff"/>
<polygon points="284.9,234.1 293.4,236.2 299.9,241.6 291.3,239.4" fill="#e6e6ff"/>
<polygon points="248.4,239.4 265.5,234.1 257.0,241.6 248.4,245.9" fill="#e6e6ff"/>
<polygon points="231.2,245.9 246.2,242.6 237.6,250.2" fill="#e6e6ff"/>
<polygon points="218.3,254.4 233.4,250.2 226.9,256.6 216.2,258.7" fill="#e6e6ff"/>
<polygon points="270.9,239.4 273.1,238.3 272.4,243.7" fill="#e6e6ff"/>
<rect x="216.2" y="145.0" width="7.5" height="19.3" fill="#e6e6ff"/>
<polygon points="184.0,145.0 223.7,145.0 223.7,164.3 211.9,179.3 196.9,175.0 184.0,164.3" fill="#e6e6ff"/>
<path d="M190,161h4v4h-4zM188,161h4v3h-4zM201,157h2v4h-2zM217,166h1v2h-1zM197,161h1v3h-1zM189,151h3v1h-3zM215,171h2v3h-2zM191,166h2v1h-2zM196,163h1v1h-1zM213,158h1v4h-1zM203,148h2v1h-2zM207,177h1v2h-1zM202,149h1v3h-1zM218,166h1v2h-1zM199,173h2v4h-2zM187,159h1v4h-1zM215,158h1v3h-1zM203,167h2v2h-2zM203,176h3v1h-3zM220,160h1v2h-1zM189,164h1v1h-1zM185,151h2v2h-2zM190,163h4v2h-4zM219,160h3v4h-3zM197,163h4v4h-4zM197,152h1v4h-1zM191,155h4v1h-4zM212,174h2v2h-2zM222,153h2v1h-2zM211,150h2v2h-2zM207,151h1v2h-1zM217,156h2v2h-2zM203,155h1v1h-1zM203,156h1v2h-1zM191,162h1v3h-1zM203,161h2v1h-2zM198,157h1v2h-1zM192,149h4v2h-4zM192,163h3v1h-3zM192,168h2v1h-2zM203,171h4v1h-4zM217,162h1v4h-1zM189,166h2v2h-2zM191,157h3v3h-3zM217,161h2v4h-2zM214,152h1v3h-1zM206,151h2v4h-2zM221,159h4v1h-4zM195,145h1v2h-1zM205,157h1v2h-1zM217,162h2v2h-2zM190,159h1v4h-1zM201,163h2v1h-2zM191,154h1v1h-1zM192,161h1v3h-1zM191,161h1v1h-1zM206,155h1v3h-1zM201,172h2v1h-2zM216,156h2v1h-2zM209,168h3v4h-3zM222,147h2v2h-2zM187,157h3v4h-3zM192,152h1v1h-1zM219,151h3v2h-3zM202,171h2v2h-2zM214,165h3v4h-3zM201,169h2v4h-2zM189,153h2v3h-2zM191,148h1v2h-1zM188,151h3v3h-3zM202,156h3v4h-3zM195,165h4v2h-4zM221,157h1v3h-1zM216,153h1v2h-1zM212,167h2v2h-2zM215,167h2v2h-2zM201,164h1v1h-1zM193,172h2v1h-2zM206,172h3v3h-3zM188,146h1v4h-1zM207,165h2v4h-2zM188,146h1v1h-1zM197,170h1v1h-1zM207,173h4v1h-4zM200,151h3v1h-3zM209,170h2v2h-2zM216,170h2v4h-2zM195,170h3v1h-3zM202,170h2v2h-2zM204,153h4v1h-4zM194,162h2v4h-2zM191,165h1v2h-1zM189,146h3v2h-3zM192,160h1v4h-1zM215,162h3v4h-3zM206,156h1v1h-1zM208,149h2v3h-2zM211,151h1v1h-1zM193,152h2v3h-2zM209,153h4v4h-4zM211,166h1v1h-1zM209,164h3v2h-3zM191,146h4v2h-4zM201,153h2v2h-2zM187,152h1v4h-1zM220,163h4v1h-4zM204,159h4v4h-4zM209,146h2v2h-2zM207,155h1v1h-1zM188,162h2v4h-2zM211,160h2v4h-2zM203,148h1v4h-1zM216,160h3v2h-3zM216,167h3v2h-3zM191,147h2v1h-2zM212,169h2v1h-2zM209,174h3v2h-3zM188,153h1v2h-1zM204,166h4v2h-4zM207,176h2v1h-2zM206,175h2v3h-2zM210,159h4v1h-4zM186,153h3v4h-3zM202,170h1v3h-1zM216,169h1v4h-1zM221,163h2v2h-2zM199,164h2v2h-2zM198,148h1v4h-1zM197,159h1v2h-1zM209,147h3v1h-3zM195,157h2v1h-2zM215,160h3v4h-3zM200,161h3v1h-3zM191,152h1v3h-1z" fill="#80b300"/>
</g>
<clipPath id="t7"><rect x="308.0" y="145.0" width="124" height="115"/></clipPath><g clip-path="url(#t7)">
<rect x="308.0" y="145.0" width="124" height="115" fill="#e6e6ff"/>
<polygon points="308.0,145.0 327.3,145.0 340.2,153.6 347.7,162.2 356.3,170.8 363.8,175.0 378.8,174.0 398.1,167.5 423.9,171.8 432.0,171.8 432.0,175.0 419.6,175.0 411.0,172.9 398.1,171.2 389.5,172.9 378.8,177.2 363.8,179.3 361.6,184.7 350.9,185.8 345.6,179.3 340.2,169.7 331.6,161.1 320.9,155.7 317.7,149.3 314.4,148.2 311.2,155.7 308.0,160.0" fill="#80b300"/>
<polygon points="326.2,142.9 331.6,148.2 340.2,153.6 346.6,162.2 355.2,170.8 363.8,175.0 378.8,174.0 389.5,169.7 398.1,167.5 411.0,169.7 423.9,171.8 434.6,171.8 434.6,142.9" fill="#338033" filter="url(#bl2)"/>
<polygon points="328.4,143.9 333.8,147.6 342.3,153.2 348.8,161.7 356.5,169.5 364.2,173.3 378.8,172.3 389.5,168.0 398.1,165.8 411.0,168.0 423.9,170.1 434.6,170.1 434.6,143.9" fill="#338033"/>
<polyline points="308.0,185.3 346.6,183.6 363.8,184.7 383.1,185.8 400.3,187.9 406.7,191.1" fill="none" stroke="#80b300" stroke-width="1.6"/>
<polyline points="400.3,187.9 408.9,197.6 417.4,207.2" fill="none" stroke="#80b300" stroke-width="1.2"/>
<polyline points="423.9,175.0 423.9,207.2" fill="none" stroke="#80b300" stroke-width="1.5"/>
<polyline points="384.6,191.1 384.6,228.7" fill="none" stroke="#80b300" stroke-width="1.2"/>
<polyline points="308.0,205.7 320.9,199.9 329.5,195.6 340.2,190.9 347.7,185.3 354.1,179.3" fill="none" stroke="#80b300" stroke-width="3.4"/>
<polygon points="326.2,191.1 335.9,189.0 337.0,196.5 328.4,198.6" fill="#80b300"/>
<polygon points="344.5,175.0 361.6,177.2 361.6,187.9 348.8,189.0 343.4,183.6" fill="#80b300"/>
<rect x="308.0" y="168.6" width="4.3" height="6.4" fill="#80b300"/>
<rect x="310.1" y="187.9" width="2.1" height="3.2" fill="#80b300"/>
<rect x="310.1" y="195.4" width="2.1" height="3.2" fill="#80b300"/>
<rect x="320.9" y="186.8" width="2.1" height="4.3" fill="#80b300"/>
<rect x="328.4" y="179.3" width="6.4" height="5.4" fill="#80b300"/>
<rect x="390.6" y="207.2" width="3.2" height="3.2" fill="#80b300"/>
<path d="M312,169h2v4h-2zM331,172h2v2h-2zM335,172h2v3h-2zM330,169h1v2h-1zM337,177h3v1h-3zM341,181h1v4h-1zM312,180h4v2h-4zM309,162h1v2h-1zM310,174h2v2h-2zM319,162h2v2h-2zM315,162h4v2h-4zM315,182h1v1h-1zM312,163h1v2h-1zM325,172h4v1h-4zM311,181h3v1h-3zM315,179h1v2h-1zM319,165h3v1h-3zM314,172h4v1h-4z" fill="#80b300"/>
<path d="M427,204h1v2h-1zM412,211h1v3h-1zM411,213h2v3h-2zM422,192h1v3h-1zM404,194h4v4h-4zM420,196h3v2h-3zM412,190h4v1h-4zM418,187h3v3h-3zM427,204h1v2h-1zM426,208h2v2h-2zM428,207h2v2h-2zM404,209h4v1h-4zM423,193h1v1h-1zM407,195h4v2h-4zM411,203h1v4h-1zM423,206h4v3h-4z" fill="#80b300"/>
<path d="M379,181h1v2h-1zM406,178h4v2h-4zM374,181h4v1h-4zM386,179h1v1h-1zM409,178h1v2h-1zM380,183h3v2h-3zM408,183h1v1h-1zM380,178h2v1h-2zM408,178h1v1h-1zM387,179h2v1h-2zM416,184h3v1h-3zM412,179h3v2h-3zM417,178h3v2h-3zM418,183h2v3h-2z" fill="#80b300"/>
<polygon points="308.0,216.9 316.6,212.0 329.5,209.8 330.5,201.2 335.9,200.2 338.0,205.5 346.6,209.8 350.9,206.6 363.8,207.7 370.2,213.0 370.2,219.5 365.9,224.8 358.4,231.3 359.5,239.8 361.6,260.0 308.0,260.0" fill="#9999ff"/>
<rect x="350.9" y="195.0" width="6.4" height="3.2" fill="#9999ff"/>
<polygon points="379.9,197.6 391.7,196.5 390.6,201.9 381.0,203.4" fill="#9999ff"/>
<rect x="388.5" y="195.4" width="5.4" height="2.1" fill="#4d4dff"/>
<path d="M344,250h1v1h-1zM347,246h4v2h-4zM342,249h4v2h-4zM344,251h2v1h-2zM354,223h1v2h-1zM349,231h4v1h-4zM345,237h2v2h-2zM347,233h3v1h-3zM357,226h2v2h-2zM341,254h1v4h-1zM348,245h1v2h-1zM353,232h3v1h-3zM352,233h1v2h-1zM341,255h1v2h-1zM341,249h3v2h-3zM350,235h2v2h-2zM345,247h2v3h-2zM349,228h3v2h-3zM349,229h2v1h-2zM345,248h1v4h-1zM338,253h4v4h-4zM341,254h1v2h-1zM346,242h3v2h-3zM346,247h1v4h-1z" fill="#4d4dff"/>
<path d="M386,223h3v1h-3zM393,221h1v1h-1zM386,225h1v2h-1zM393,220h2v1h-2z" fill="#4d4dff"/>
<polygon points="356.3,230.8 363.8,226.5 372.4,230.8 381.0,230.8 393.8,220.1 408.9,215.8 417.4,206.2 425.0,208.3 434.6,213.7 434.6,226.5 393.8,230.8 372.4,241.6 359.5,243.7" fill="#80b300" filter="url(#bl2)"/>
<polygon points="413.2,205.1 423.9,207.2 423.9,218.0 411.0,219.0 408.9,215.8" fill="#80b300"/>
<path d="M379,222h3v2h-3zM376,228h2v1h-2zM373,228h2v4h-2zM375,225h2v1h-2zM375,222h4v4h-4zM379,226h1v1h-1zM380,221h3v4h-3zM381,229h4v1h-4zM380,221h1v2h-1z" fill="#80b300"/>
<polygon points="361.6,260.9 360.6,245.9 362.7,239.8 370.2,236.0 381.0,234.7 393.8,226.5 402.4,222.3 415.3,221.0 423.9,220.1 434.6,219.0 434.6,260.9" fill="#338033" filter="url(#bl1)"/>
<polygon points="362.1,260.9 361.2,245.9 363.4,240.7 370.7,236.8 381.4,235.6 394.3,227.4 402.8,223.1 415.3,221.8 423.9,221.0 434.6,219.9 434.6,260.9" fill="#338033"/>
</g>
<clipPath id="t8"><rect x="432.0" y="145.0" width="124" height="115"/></clipPath><g clip-path="url(#t8)">
<rect x="432.0" y="145.0" width="124" height="115" fill="#338033"/>
<polygon points="432.0,170.8 440.6,157.9 444.9,142.9 505.0,142.9 510.3,157.9 522.1,170.8 535.0,177.2 558.6,170.8 558.6,185.8 543.6,194.4 535.0,209.4 528.6,230.8 523.2,240.5 507.1,234.1 485.6,227.6 464.2,229.8 453.5,227.6 440.6,216.9 429.9,219.0 429.9,170.8" fill="#5a9a1a" filter="url(#bl3)"/>
<polygon points="436.3,170.8 444.9,153.6 449.2,142.9 470.6,142.9 468.5,157.9 487.8,164.3 505.0,168.6 522.1,175.0 526.4,192.2 552.2,175.0 558.6,175.0 558.6,180.4 526.4,200.8 522.1,213.7 509.3,228.7 474.9,226.5 459.9,218.0 432.0,218.0 432.0,175.0" fill="#80b300" filter="url(#bl2)"/>
<polygon points="470.6,142.9 496.4,142.9 494.2,154.7 485.6,159.6 476.0,158.3 470.2,152.5" fill="#338033" filter="url(#bl3)"/>
<polygon points="429.9,142.9 440.6,142.9 440.6,153.6 436.3,164.3 429.9,168.6" fill="#338033" filter="url(#bl2)"/>
<polygon points="447.0,145.0 467.4,145.0 464.2,153.6 466.3,162.2 474.9,165.4 485.6,164.3 489.9,170.8 500.7,170.8 502.8,175.0 520.0,177.2 521.1,194.4 517.8,207.2 502.8,207.2 496.4,211.5 496.4,219.0 505.0,220.1 505.0,224.4 494.2,225.5 481.4,224.4 479.2,218.0 473.8,213.7 464.2,215.8 462.0,209.4 449.2,207.2 440.6,211.5 432.0,215.8 432.0,176.1 440.6,175.0 441.7,168.6 453.5,166.5 454.5,157.9 451.3,151.4" fill="#e6e6ff"/>
<path d="M484,221h1v1h-1zM480,200h4v4h-4zM455,177h2v2h-2zM453,208h4v2h-4zM480,189h3v3h-3zM439,183h2v4h-2zM501,184h3v2h-3zM472,185h3v3h-3zM512,188h1v2h-1zM475,200h3v1h-3zM481,194h1v1h-1zM462,178h2v4h-2zM518,195h1v3h-1zM453,182h2v4h-2zM459,173h2v1h-2zM488,193h2v4h-2zM518,182h3v2h-3zM460,183h4v2h-4zM440,206h2v3h-2zM455,199h1v1h-1zM469,185h2v1h-2zM479,217h2v2h-2zM498,207h1v3h-1zM500,176h3v3h-3zM468,171h4v2h-4zM472,205h4v3h-4zM477,210h3v4h-3zM435,198h1v1h-1zM442,195h3v3h-3zM436,200h1v2h-1zM487,210h1v2h-1zM489,184h1v2h-1zM475,199h2v4h-2zM485,174h3v2h-3zM471,171h2v2h-2zM491,173h2v3h-2zM464,202h4v3h-4zM480,173h1v1h-1zM481,210h2v1h-2zM513,188h4v2h-4zM449,181h2v1h-2zM489,188h3v4h-3zM435,180h4v4h-4zM473,206h4v2h-4zM488,221h3v4h-3zM477,200h4v2h-4zM471,184h2v2h-2zM458,188h2v4h-2zM469,205h2v2h-2zM494,202h3v4h-3zM491,184h1v3h-1zM510,194h3v2h-3zM466,204h1v2h-1zM516,185h2v1h-2zM447,179h2v1h-2zM462,191h1v2h-1zM485,197h4v1h-4zM451,200h3v2h-3z" fill="#80b300"/>
<polyline points="524.3,193.3 532.9,187.9 543.6,180.4" fill="none" stroke="#e6e6ff" stroke-width="1.0"/>
<rect x="553.2" y="177.2" width="2.1" height="2.1" fill="#e6e6ff"/>
<rect x="491.0" y="170.8" width="3.2" height="7.5" fill="#80b300"/>
<rect x="502.8" y="189.0" width="1.3" height="9.7" fill="#80b300"/>
<polygon points="432.0,183.6 440.6,187.9 449.2,193.3 449.2,195.4 439.5,195.4 439.5,191.1 432.0,187.9" fill="#80b300"/>
</g>
<clipPath id="t9"><rect x="60.0" y="260.0" width="124" height="115"/></clipPath><g clip-path="url(#t9)">
<rect x="60.0" y="260.0" width="124" height="115" fill="#e6e6ff"/>
<polyline points="118.4,258.9 111.5,265.4 105.1,271.8 101.8,278.9" fill="none" stroke="#80b300" stroke-width="2.8"/>
<polygon points="86.8,283.6 91.1,278.2 97.6,279.3 101.8,277.2 109.4,279.3 108.3,284.7 104.0,291.1 98.6,294.3 92.2,293.3 86.8,289.0" fill="#80b300"/>
<polyline points="153.3,278.9 145.8,284.7 137.3,294.3 131.9,300.3" fill="none" stroke="#80b300" stroke-width="2.0"/>
<polygon points="123.3,302.9 128.7,297.6 134.0,298.6 131.9,302.9 126.5,306.1" fill="#80b300"/>
<polygon points="148.0,260.0 184.0,260.0 184.0,349.7 175.9,352.7 169.4,354.4 169.4,345.8 167.3,330.8 163.0,313.6 158.7,296.5 154.4,283.6 152.3,277.2 153.3,268.6 150.1,264.3" fill="#80b300"/>
<polyline points="87.9,278.2 85.8,281.5 84.7,285.3" fill="none" stroke="#9999ff" stroke-width="0.6"/>
</g>
<clipPath id="t10"><rect x="184.0" y="260.0" width="124" height="115"/></clipPath><g clip-path="url(#t10)">
<rect x="184.0" y="260.0" width="124" height="115" fill="#e6e6ff"/>
<polygon points="184.0,260.0 188.3,260.0 191.5,264.3 195.8,260.0 202.2,260.0 199.0,268.6 197.9,277.2 200.1,287.9 205.5,281.5 210.8,285.8 214.0,294.3 217.3,309.4 221.6,322.2 225.8,335.1 229.1,345.8 226.9,351.2 222.6,351.2 211.9,346.9 196.9,348.0 184.0,349.7" fill="#80b300"/>
<polygon points="198.6,280.4 201.2,278.9 205.5,281.5 209.3,286.8 211.5,292.2 207.6,294.3 205.5,290.0 202.2,292.2 199.0,289.0" fill="#e6e6ff"/>
<polygon points="202.2,283.6 205.5,284.7 207.2,289.0 204.4,289.0" fill="#80b300"/>
<polygon points="202.2,260.0 308.0,260.0 308.0,272.9 291.3,275.0 269.8,276.1 258.0,277.2 257.0,283.6 252.7,292.2 248.4,291.1 237.6,294.3 230.1,299.7 224.8,295.4 216.2,293.3 213.0,285.8 207.6,277.2 207.6,267.5 213.0,267.5 216.2,262.1 205.5,264.3 202.2,263.2" fill="#9999ff"/>
<rect x="228.0" y="343.7" width="3.6" height="3.2" fill="#9999ff"/>
</g>
<clipPath id="t11"><rect x="60.0" y="260.0" width="248.0" height="115.0"/></clipPath><g clip-path="url(#t11)">
<polygon points="154.0,277.3 165.6,273.4 179.0,267.7 183.6,283.0 188.6,298.4 198.2,309.1 213.6,314.5 223.1,327.2 228.9,346.4 227.0,350.6 213.6,346.8 194.4,340.6 182.1,336.8 170.6,332.2 166.0,321.4 159.0,298.4" fill="#5a9a1a" filter="url(#bl2)"/>
<polygon points="155.2,279.2 165.6,275.4 177.1,269.6 179.8,283.0 184.8,298.4 194.4,311.8 211.6,317.6 221.2,329.1 227.8,346.4 225.8,349.4 213.6,345.2 194.4,338.7 182.8,334.9 172.1,331.0 167.5,321.4 160.6,298.4" fill="#338033" filter="url(#bl1)"/>
<polygon points="156.4,280.7 165.6,276.9 175.9,271.5 178.2,283.0 183.2,299.2 193.2,313.4 210.9,319.1 220.1,330.2 226.2,346.0 225.1,348.3 213.6,344.1 194.4,337.5 182.8,333.3 173.2,329.5 168.6,320.7 161.7,298.4" fill="#338033"/>
<rect x="183.6" y="343.7" width="3.8" height="3.8" fill="#e6e6ff"/>
<polygon points="153.7,280.0 160.6,298.4 167.5,321.4 171.3,336.8 170.2,353.3 163.6,353.3 163.6,321.4 156.0,298.4 150.6,283.0" fill="#e6e6ff"/>
<polygon points="170.2,354.4 186.7,349.8 205.9,347.1 225.8,351.4 228.9,349.1 232.7,356.0 170.2,357.9" fill="#e6e6ff"/>
<polygon points="218.0,309.1 222.4,322.2 226.6,335.2 229.9,346.0 228.1,351.4 233.5,352.1 234.3,335.2 229.7,321.4 223.9,309.1" fill="#e6e6ff"/>
<rect x="228.9" y="345.2" width="2.7" height="2.3" fill="#9999ff"/>
</g>
<clipPath id="t12"><rect x="308.0" y="260.0" width="124" height="115"/></clipPath><g clip-path="url(#t12)">
<rect x="308.0" y="260.0" width="124" height="115" fill="#e6e6ff"/>
<polygon points="308.0,260.0 329.5,260.0 325.2,265.4 318.7,269.7 308.0,271.8" fill="#9999ff"/>
<polygon points="331.6,260.0 362.7,260.0 361.6,269.7 355.2,273.9 340.2,278.2 329.5,281.5 318.3,282.5 319.8,276.1 327.3,271.8" fill="#9999ff"/>
<polygon points="364.2,273.9 367.0,273.9 368.5,278.2 365.5,277.6" fill="#9999ff"/>
<polygon points="364.2,260.0 432.0,260.0 432.0,282.7 423.9,280.2 400.3,278.9 378.8,279.5 372.4,276.7 369.2,268.6" fill="#80b300"/>
<polygon points="364.7,260.0 432.0,260.0 432.0,281.0 423.9,278.9 400.3,278.0 378.8,278.7 372.8,275.9 369.8,268.6" fill="#338033"/>
<polygon points="425.0,375.0 432.0,368.4 432.0,375.0" fill="#338033"/>
</g>
<clipPath id="t13"><rect x="308.0" y="375.0" width="124" height="115"/></clipPath><g clip-path="url(#t13)">
<rect x="308.0" y="375.0" width="124" height="115" fill="#e6e6ff"/>
<polygon points="425.0,375.0 432.0,375.0 432.0,405.0 426.0,403.3 420.7,399.7 419.2,393.2 421.3,385.7" fill="#338033"/>
</g>
<clipPath id="t14"><rect x="400.0" y="260.0" width="160.0" height="230.0"/></clipPath><g clip-path="url(#t14)">
<rect x="400.0" y="260.0" width="160.0" height="230.0" fill="#338033"/>
<polygon points="477.2,283.6 498.7,275.0 528.7,269.4 539.4,281.5 535.1,302.9 524.4,317.9 503.0,322.2 485.8,313.6 479.4,298.6" fill="#6aa60d" filter="url(#bl4)"/>
<polygon points="487.9,287.9 503.0,281.5 524.4,278.0 529.6,286.6 525.3,302.0 515.8,309.3 502.1,310.6 491.8,303.8" fill="#80b300" filter="url(#bl4)"/>
<polygon points="480.7,279.3 484.1,290.0 482.4,300.8 479.8,300.8 481.5,290.0 478.1,280.6" fill="#80b300" filter="url(#bl1)"/>
<polygon points="482.4,297.8 498.7,296.0 512.4,293.5 515.0,281.5 524.4,275.0 527.0,277.2 518.0,283.6 515.8,296.0 499.5,299.5 482.4,300.8" fill="#80b300" filter="url(#bl1)"/>
<polygon points="502.1,344.9 528.7,361.2 560.9,376.7 560.9,435.9 541.6,427.3 524.4,423.0 507.3,427.3 495.2,433.7 490.9,414.4 497.8,401.6 512.4,403.7 522.3,397.3 515.0,385.3 499.5,376.7 487.9,375.0 496.5,363.0" fill="#6aa60d" filter="url(#bl4)"/>
<polygon points="509.4,360.8 528.7,369.4 560.9,386.6 560.9,429.5 541.6,420.9 528.7,417.9 525.3,410.2 530.8,397.3 524.4,386.6 509.4,375.0" fill="#80b300" filter="url(#bl4)"/>
<polygon points="495.2,390.8 511.5,387.8 526.6,395.1 527.8,405.9 515.8,411.0 500.8,408.0 493.5,400.7" fill="#4a8f28" filter="url(#bl3)"/>
<polygon points="490.1,411.0 503.0,413.6 528.7,417.0 560.9,428.2 560.9,433.3 528.7,423.9 507.3,423.9 491.8,429.9" fill="#80b300" filter="url(#bl2)"/>
<polygon points="491.8,432.5 507.3,427.3 528.7,427.3 560.9,436.7 560.9,461.6 528.7,448.8 511.5,440.2 500.8,433.7 494.4,440.2" fill="#338033" filter="url(#bl2)"/>
<polygon points="464.4,458.2 487.9,440.2 499.5,432.5 507.3,440.2 509.8,457.3 503.0,471.1 485.8,475.4 471.2,466.8" fill="#80b300" filter="url(#bl3)"/>
<polygon points="475.1,448.8 492.2,439.3 503.0,442.3 504.7,457.3 496.5,465.9 483.7,461.6" fill="#6aa60d" filter="url(#bl2)"/>
<polygon points="425.7,277.2 442.9,284.9 460.1,293.5 473.8,304.2 483.2,315.8 484.9,320.1 479.8,320.9 470.8,309.3 457.9,299.5 442.0,290.9 424.9,283.2 400.0,282.3 400.0,277.2" fill="#80b300" filter="url(#bl1)"/>
<polygon points="444.2,395.6 453.6,390.4 466.9,392.6 469.5,397.3 460.5,400.3 454.1,408.9 447.2,411.0" fill="#80b300"/>
<polygon points="400.0,279.7 425.7,279.7 442.9,287.9 460.1,296.5 472.9,307.2 481.5,317.9 479.8,321.3 468.6,328.6 455.8,339.4 445.0,350.1 434.3,365.1 425.7,378.0 419.3,390.8 421.5,399.4 432.2,405.9 447.2,411.0 453.6,408.0 460.1,399.4 468.6,397.3 481.5,403.7 490.1,414.4 492.2,427.3 487.9,440.2 475.1,448.8 464.4,457.3 455.8,463.8 446.3,465.9 449.3,474.5 457.9,483.1 464.4,488.2 400.0,488.2" fill="#e6e6ff"/>
<polyline points="484.1,318.3 468.6,329.1 455.8,339.8 445.5,350.5" fill="none" stroke="#80b300" stroke-width="1.3"/>
<polygon points="480.2,322.6 484.1,328.6 492.2,339.4 500.8,347.9 503.8,358.7 500.8,367.3 492.2,372.4 481.5,367.3 468.6,360.8 457.9,352.2 451.9,345.8 456.2,340.2 468.6,329.9" fill="#e6e6ff"/>
<polygon points="464.4,347.9 472.1,342.4 481.5,339.4 485.8,343.7 489.2,352.2 490.1,362.1 485.8,367.3 479.4,365.1 472.1,362.1 465.2,357.8 461.3,352.7" fill="#9999ff"/>
<polygon points="466.1,345.8 475.1,340.7 481.5,341.5 482.8,350.1 480.7,355.2 472.9,357.8 467.4,353.1" fill="#4d4dff"/>
<polygon points="467.8,340.2 473.8,338.9 476.4,344.9 473.8,350.1 468.6,349.2 466.5,344.5" fill="#0000ff"/>
<polygon points="452.3,337.2 459.2,332.9 466.9,330.8 470.8,333.8 476.4,333.8 472.1,336.4 465.2,336.4 458.3,338.5" fill="#9999ff"/>
<rect x="465.2" y="334.6" width="6.0" height="2.6" fill="#4d4dff"/>
<rect x="469.1" y="341.5" width="3.0" height="6.0" fill="#ffcccc"/>
<rect x="469.9" y="343.2" width="1.3" height="1.7" fill="#e6e6ff"/>
<rect x="452.3" y="398.1" width="0.9" height="5.6" fill="#e6e6ff"/>
</g>
<clipPath id="t15"><rect x="380.0" y="100.0" width="180.0" height="200.0"/></clipPath><g clip-path="url(#t15)">
<polygon points="376.3,96.3 432.3,96.3 436.0,111.2 440.5,122.4 442.7,137.3 445.7,152.3 443.5,163.5 436.0,167.6 417.3,167.2 376.3,166.1" fill="#338033" filter="url(#bl2)"/>
<polygon points="419.2,139.6 430.4,141.8 441.6,147.8 442.7,150.8 430.4,145.6 419.2,142.6" fill="#5a9a1a" filter="url(#bl1)"/>
<polygon points="471.9,138.8 479.3,135.8 492.0,136.2 500.2,142.2 501.7,152.3 495.0,160.1 481.6,162.4 473.4,158.3 469.6,148.5" fill="#338033" filter="url(#bl1)"/>
</g>
<clipPath id="t16"><rect x="240.0" y="30.0" width="120.0" height="100.0"/></clipPath><g clip-path="url(#t16)">
<polygon points="240.0,30.0 344.5,30.0 337.0,44.9 329.6,65.4 310.9,86.0 307.9,95.3 286.6,97.2 240.0,106.5" fill="#80b300"/>
<rect x="240.0" y="30.0" width="8.4" height="10.3" fill="#e6e6ff"/>
<rect x="249.3" y="42.1" width="6.5" height="10.3" fill="#e6e6ff"/>
<rect x="251.2" y="74.4" width="3.7" height="1.1" fill="#e6e6ff"/>
<rect x="288.9" y="30.0" width="12.7" height="3.7" fill="#338033"/>
<polygon points="240.0,93.4 249.3,86.9 258.7,83.2 268.0,86.0 286.6,86.0 301.6,86.0 309.0,80.4 314.6,71.0 318.4,61.7 322.1,50.5 325.8,39.3 329.2,30.0 344.5,30.0 338.9,39.3 334.2,48.7 331.4,59.9 327.7,67.3 322.1,74.8 316.5,82.2 309.0,89.7 301.6,94.4 286.6,95.3 277.3,94.4 268.0,95.3 258.7,98.1 249.3,101.8 240.0,104.6" fill="#e6e6ff"/>
<polyline points="259.6,86.0 268.0,80.0 277.3,75.7 284.8,70.1 290.4,63.6 297.8,58.0 303.4,52.4 310.9,47.7 316.5,41.2 320.2,37.5 327.7,35.6" fill="none" stroke="#e6e6ff" stroke-width="3.2"/>
<polyline points="303.4,52.4 310.9,52.8 318.4,48.7 323.0,43.1 326.8,39.3" fill="none" stroke="#e6e6ff" stroke-width="2.0"/>
<polyline points="260.5,53.3 268.0,56.5 277.3,58.4 280.7,54.3 284.8,47.7 292.2,39.7 296.0,37.8 301.6,36.0 305.3,32.8 318.4,31.9 329.6,30.7" fill="none" stroke="#e6e6ff" stroke-width="2.0"/>
<rect x="280.1" y="53.3" width="4.7" height="8.4" fill="#e6e6ff"/>
<rect x="281.4" y="55.2" width="1.9" height="4.7" fill="#80b300"/>
</g>
<clipPath id="t17"><rect x="184.0" y="180.0" width="216.0" height="130.0"/></clipPath><g clip-path="url(#t17)">
<polygon points="353.6,221.8 359.3,223.5 355.2,232.8 350.6,241.2 348.5,249.6 341.9,258.9 337.2,256.9 340.5,248.6 344.5,239.5 349.2,230.2" fill="#4d4dff"/>
<path d="M348,241h1v2h-1zM349,249h2v3h-2zM348,233h1v4h-1zM344,243h1v4h-1zM350,221h4v4h-4zM345,237h4v2h-4zM349,247h1v4h-1zM352,238h1v1h-1zM350,247h3v2h-3zM346,232h2v2h-2zM343,257h1v2h-1zM356,230h1v3h-1zM354,226h2v4h-2zM343,237h4v3h-4zM346,253h2v3h-2zM349,238h1v3h-1zM351,247h2v2h-2zM353,221h2v4h-2zM341,256h4v3h-4zM352,228h1v1h-1zM349,241h2v1h-2zM357,229h2v1h-2zM352,237h1v2h-1zM350,243h1v2h-1zM338,249h3v1h-3zM353,225h3v2h-3zM352,240h1v4h-1zM354,238h2v1h-2zM353,232h1v2h-1zM355,233h1v2h-1zM349,247h1v1h-1zM352,221h2v1h-2zM345,246h1v2h-1zM343,242h1v1h-1zM354,224h2v1h-2zM341,254h1v3h-1zM354,234h1v1h-1zM344,251h2v2h-2zM354,221h3v1h-3zM351,230h3v1h-3zM345,245h4v1h-4zM356,229h1v1h-1zM344,254h2v1h-2z" fill="#9999ff"/>
<polyline points="355.2,226.8 343.9,236.9" fill="none" stroke="#4d4dff" stroke-width="0.6"/>
<rect x="261.6" y="256.3" width="1.0" height="5.7" fill="#4d4dff"/>
<rect x="324.5" y="233.5" width="1.0" height="2.0" fill="#4d4dff"/>
</g>
<clipPath id="t18"><rect x="95.0" y="90.0" width="100.0" height="80.0"/></clipPath><g clip-path="url(#t18)">
<rect x="95.0" y="90.0" width="100.0" height="80.0" fill="#80b300"/>
<rect x="95.0" y="90.0" width="1.5" height="6.2" fill="#e6e6ff"/>
<rect x="101.2" y="90.0" width="7.0" height="2.8" fill="#e6e6ff"/>
<polygon points="100.4,124.8 118.2,124.8 118.2,155.0 113.6,155.0 110.5,148.8 104.3,147.3 100.4,142.6" fill="#e6e6ff"/>
<path d="M114,131h2v4h-2zM114,132h1v1h-1zM104,129h4v2h-4zM115,142h4v3h-4zM102,137h3v1h-3zM112,133h3v1h-3zM116,132h2v1h-2zM115,132h2v4h-2zM110,139h2v4h-2zM111,126h2v2h-2zM115,147h1v3h-1zM114,141h2v4h-2z" fill="#80b300"/>
<polygon points="121.6,121.0 128.3,123.3 135.2,130.2 141.4,136.4 141.4,150.4 133.7,151.9 126.0,155.0 121.6,155.0" fill="#e6e6ff"/>
<path d="M131,142h1v1h-1zM125,142h1v2h-1zM131,138h2v1h-2zM127,129h1v4h-1zM132,139h3v4h-3zM130,137h2v4h-2zM137,132h1v2h-1zM130,131h1v1h-1zM130,143h3v1h-3zM131,141h4v4h-4zM128,136h1v1h-1zM124,125h1v2h-1zM127,151h3v4h-3z" fill="#80b300"/>
<polygon points="119.8,94.6 126.0,91.5 133.7,93.1 139.9,97.7 145.3,104.7 146.1,121.0 143.0,124.8 139.1,120.2 132.2,118.6 122.9,120.2 119.8,114.8" fill="#e6e6ff"/>
<path d="M130,94h1v4h-1zM123,96h3v2h-3zM125,93h4v2h-4zM121,100h4v1h-4zM141,100h2v2h-2zM134,113h1v1h-1zM134,95h3v2h-3zM130,93h2v3h-2zM121,117h1v1h-1zM129,118h2v1h-2zM124,96h2v3h-2zM138,98h2v2h-2zM134,111h4v2h-4zM126,110h2v4h-2zM129,113h4v2h-4zM122,103h1v2h-1zM139,110h2v1h-2zM141,106h2v2h-2zM128,116h2v3h-2zM139,99h4v2h-4zM142,120h2v3h-2zM122,95h1v4h-1zM129,113h4v1h-4zM125,98h3v4h-3zM140,119h1v1h-1zM143,116h2v3h-2zM127,106h2v2h-2zM136,104h1v3h-1zM133,98h3v1h-3zM124,100h1v2h-1zM143,106h4v2h-4zM124,114h2v1h-2zM133,98h4v2h-4zM127,104h4v3h-4zM122,115h2v1h-2zM132,111h4v3h-4zM138,105h1v1h-1zM134,94h3v1h-3zM135,102h2v2h-2zM135,102h2v2h-2zM122,92h4v2h-4zM128,96h2v1h-2zM140,118h4v3h-4zM138,98h4v4h-4z" fill="#80b300"/>
<polygon points="107.4,93.9 119.8,94.6 119.8,111.7 111.3,110.1 106.6,103.2" fill="#e6e6ff"/>
<path d="M118,99h3v3h-3zM108,99h3v1h-3zM112,108h4v1h-4zM115,101h2v2h-2zM115,106h2v2h-2zM115,109h2v2h-2zM107,102h1v2h-1zM111,107h3v3h-3zM114,98h1v4h-1zM110,104h2v2h-2zM118,97h1v1h-1zM111,98h1v1h-1zM108,98h3v1h-3zM116,96h2v4h-2zM113,97h4v4h-4z" fill="#80b300"/>
<polygon points="146.1,110.1 150.7,107.0 160.0,107.0 161.6,111.7 156.9,117.9 151.5,119.4 150.7,148.8 146.1,151.9 144.5,136.4 145.3,121.0" fill="#e6e6ff"/>
<path d="M150,126h2v1h-2zM155,114h3v2h-3zM157,109h2v4h-2zM147,133h4v4h-4z" fill="#80b300"/>
<rect x="163.1" y="103.9" width="3.1" height="13.9" fill="#e6e6ff"/>
<rect x="169.3" y="97.7" width="3.1" height="18.6" fill="#e6e6ff"/>
<rect x="178.6" y="94.6" width="6.2" height="13.9" fill="#e6e6ff"/>
<rect x="187.9" y="94.6" width="3.9" height="3.9" fill="#e6e6ff"/>
<rect x="175.5" y="94.6" width="2.3" height="4.6" fill="#e6e6ff"/>
<polygon points="172.4,114.8 181.7,113.2 181.7,131.8 177.0,134.1 173.9,125.6" fill="#e6e6ff"/>
<path d="M179,117h1v2h-1zM174,123h2v1h-2zM176,131h2v4h-2zM175,117h1v2h-1zM179,121h1v4h-1zM180,113h2v4h-2zM178,129h2v2h-2zM177,131h2v3h-2z" fill="#80b300"/>
<polygon points="95.0,151.9 104.3,155.0 113.6,156.6 126.0,156.6 138.3,151.9 147.6,150.4 156.9,145.7 167.8,141.1 175.5,138.0 181.7,134.9 187.9,128.7 195.0,121.0 195.0,134.9 187.9,139.5 181.7,144.2 175.5,148.8 170.9,155.0 167.8,161.2 165.4,170.0 95.0,170.0" fill="#e6e6ff"/>
<path d="M155,168h1v4h-1zM139,155h2v2h-2zM151,153h2v2h-2zM150,168h2v4h-2zM158,154h1v1h-1zM159,157h3v2h-3zM162,164h1v3h-1zM152,168h1v1h-1zM163,150h1v2h-1zM163,161h2v1h-2zM162,153h1v2h-1zM162,154h4v1h-4zM144,168h2v1h-2zM164,155h2v2h-2zM159,159h2v4h-2zM163,168h2v2h-2zM156,147h2v1h-2zM164,151h2v1h-2zM147,164h1v2h-1zM148,167h3v4h-3zM143,153h4v3h-4zM143,155h4v1h-4zM151,166h1v3h-1zM144,169h1v2h-1zM150,168h2v1h-2zM155,158h2v2h-2zM153,160h4v2h-4z" fill="#80b300"/>
<polygon points="175.5,144.2 181.7,141.1 187.9,141.1 189.4,144.2 181.7,147.3 176.3,148.8" fill="#80b300"/>
<rect x="126.7" y="151.1" width="7.7" height="4.6" fill="#80b300"/>
<rect x="108.9" y="148.0" width="5.4" height="7.0" fill="#80b300"/>
<rect x="187.9" y="141.9" width="7.1" height="10.1" fill="#e6e6ff"/>
<rect x="184.8" y="162.8" width="3.1" height="4.6" fill="#e6e6ff"/>
</g>
<clipPath id="t19"><rect x="150.0" y="130.0" width="120.0" height="100.0"/></clipPath><g clip-path="url(#t19)">
<rect x="150.0" y="130.0" width="120.0" height="100.0" fill="#80b300"/>
<polygon points="150.0,147.7 163.1,142.1 176.1,135.6 184.5,130.0 198.5,130.0 193.8,136.5 185.4,141.2 178.0,146.8 170.5,150.5 163.1,154.3 157.5,158.0 150.0,160.8" fill="#e6e6ff"/>
<polygon points="150.0,160.8 157.5,158.0 163.1,154.3 170.9,152.0 169.0,163.6 166.4,174.8 161.6,186.0 150.0,191.6" fill="#e6e6ff"/>
<path d="M167,163h1v3h-1zM153,170h2v1h-2zM161,171h1v2h-1zM160,158h4v1h-4zM155,169h1v2h-1zM160,155h3v1h-3zM166,158h4v2h-4zM164,162h2v2h-2zM157,173h4v1h-4zM159,171h3v2h-3zM165,166h2v1h-2zM153,159h4v1h-4zM161,175h2v4h-2zM152,168h1v1h-1zM154,180h4v2h-4zM158,182h2v4h-2zM162,171h3v4h-3zM162,158h1v2h-1zM155,158h4v4h-4z" fill="#80b300"/>
<polygon points="175.2,144.0 184.5,139.3 186.4,141.2 178.0,147.7" fill="#80b300"/>
<polygon points="196.6,133.7 206.0,130.0 222.8,130.0 221.8,144.9 220.9,154.3 213.4,158.0 206.0,152.4 198.5,156.1 192.0,152.4 190.1,146.8" fill="#e6e6ff"/>
<path d="M193,139h2v2h-2zM215,151h1v4h-1zM215,143h3v1h-3zM216,135h2v2h-2zM219,144h1v1h-1zM198,152h2v2h-2zM196,144h1v2h-1zM192,142h1v1h-1zM207,135h4v3h-4zM217,148h4v2h-4zM212,155h1v2h-1zM212,136h2v2h-2zM210,155h3v3h-3zM219,135h1v2h-1zM200,137h2v4h-2zM198,136h3v2h-3zM218,137h2v4h-2zM200,136h1v1h-1zM215,144h2v3h-2zM199,134h1v3h-1zM216,144h3v1h-3zM207,139h1v4h-1zM210,134h1v3h-1zM214,148h1v4h-1zM207,146h3v2h-3zM207,131h1v4h-1zM208,135h2v1h-2zM198,131h2v4h-2zM205,141h1v3h-1zM211,154h1v1h-1zM217,147h4v3h-4zM210,141h1v2h-1zM204,144h3v2h-3zM215,152h4v2h-4zM198,134h1v1h-1zM216,134h2v1h-2zM217,140h4v2h-4zM206,141h1v1h-1zM207,147h2v1h-2zM205,151h3v3h-3zM195,151h2v1h-2zM210,148h1v4h-1zM198,135h2v2h-2zM208,153h3v2h-3zM200,140h2v2h-2zM213,140h1v4h-1zM210,146h3v1h-3zM214,146h1v2h-1zM215,141h2v3h-2zM214,141h1v3h-1zM218,154h3v1h-3zM205,150h4v3h-4z" fill="#80b300"/>
<rect x="194.8" y="141.2" width="2.2" height="13.1" fill="#e6e6ff"/>
<rect x="206.0" y="135.6" width="2.2" height="14.9" fill="#e6e6ff"/>
<rect x="216.2" y="133.7" width="3.2" height="14.9" fill="#e6e6ff"/>
<polygon points="183.6,162.6 187.3,160.8 192.9,161.7 196.6,164.5 204.1,165.4 211.6,167.3 215.3,172.9 220.9,178.5 217.2,178.9 211.6,174.8 206.0,173.8 200.4,176.6 194.8,176.6 189.2,172.0 184.5,167.3" fill="#e6e6ff"/>
<rect x="228.4" y="166.9" width="13.1" height="7.8" fill="#338033"/>
<rect x="241.4" y="166.9" width="21.5" height="7.8" fill="#5a9a1a"/>
<rect x="245.1" y="166.9" width="1.9" height="7.8" fill="#80b300"/>
<rect x="250.7" y="166.9" width="1.5" height="7.8" fill="#80b300"/>
<rect x="256.0" y="166.9" width="1.5" height="7.8" fill="#80b300"/>
<polygon points="228.4,177.6 247.0,176.6 256.3,183.2 270.0,186.0 270.0,223.3 254.5,230.0 215.3,230.0 215.3,217.7 226.5,214.0 226.5,195.3" fill="#e6e6ff"/>
<path d="M232,185h3v1h-3zM237,211h1v2h-1zM268,217h1v1h-1zM267,188h2v1h-2zM225,223h3v1h-3zM242,214h2v2h-2zM240,189h1v2h-1zM238,212h2v2h-2zM254,209h4v4h-4zM266,191h1v2h-1zM228,197h1v4h-1zM244,199h3v3h-3zM257,227h4v2h-4zM260,212h2v4h-2zM258,184h1v4h-1zM245,185h1v3h-1zM230,208h1v2h-1zM268,211h2v2h-2zM262,186h1v1h-1zM246,190h1v1h-1zM227,195h4v2h-4zM249,187h2v2h-2zM251,179h4v4h-4zM249,202h1v1h-1zM250,222h2v2h-2zM245,202h2v2h-2zM263,220h3v2h-3zM258,212h2v2h-2zM233,189h2v2h-2zM250,201h4v1h-4zM225,219h1v2h-1zM252,188h2v1h-2zM235,207h1v4h-1zM228,211h2v2h-2zM237,183h1v2h-1zM227,207h4v3h-4zM251,198h1v1h-1zM263,203h2v4h-2zM252,187h1v4h-1zM241,197h1v3h-1zM243,193h3v3h-3zM231,211h2v1h-2zM246,193h1v2h-1zM264,202h3v4h-3zM245,219h2v3h-2zM262,193h1v1h-1zM243,203h1v3h-1zM260,195h2v2h-2zM256,193h2v1h-2zM265,209h4v2h-4zM230,222h2v1h-2zM217,222h1v2h-1zM250,189h2v1h-2zM248,181h4v1h-4zM229,207h2v4h-2zM221,227h2v1h-2zM259,201h2v4h-2zM247,217h3v2h-3zM258,226h1v1h-1zM250,219h3v1h-3zM238,228h1v2h-1zM260,187h2v2h-2zM220,219h1v1h-1zM252,226h2v3h-2zM233,201h1v4h-1zM240,224h1v1h-1zM248,219h1v2h-1zM266,200h3v1h-3zM231,222h2v2h-2zM251,184h2v3h-2zM231,224h2v4h-2zM237,178h1v4h-1zM226,215h2v1h-2zM251,219h4v1h-4zM237,188h2v1h-2zM263,220h2v4h-2zM264,188h2v3h-2zM253,229h1v1h-1zM255,214h3v3h-3zM228,209h1v1h-1zM236,199h4v1h-4zM249,193h3v3h-3zM247,179h2v2h-2zM250,188h3v1h-3zM260,224h4v3h-4zM250,219h1v2h-1zM227,181h2v4h-2zM246,196h3v4h-3zM257,209h1v1h-1zM248,179h2v1h-2zM252,188h1v2h-1zM224,215h4v2h-4zM258,226h2v2h-2zM268,191h2v1h-2zM229,206h4v2h-4zM248,201h4v3h-4zM247,187h2v3h-2zM235,220h1v1h-1zM247,223h2v3h-2zM253,196h2v1h-2zM246,194h2v1h-2zM242,187h1v3h-1zM256,222h4v2h-4zM238,216h3v4h-3zM225,227h1v2h-1zM253,217h1v2h-1zM228,216h1v1h-1zM259,186h4v2h-4zM257,195h4v1h-4zM248,204h1v4h-1zM256,184h2v2h-2zM236,214h3v1h-3zM253,194h2v3h-2zM219,215h1v3h-1zM234,217h2v2h-2zM248,213h4v1h-4zM229,193h1v2h-1zM229,197h1v4h-1zM241,202h4v1h-4zM225,210h3v3h-3zM249,178h2v4h-2zM238,218h1v1h-1zM223,225h1v3h-1zM254,222h1v2h-1zM238,217h2v2h-2zM266,208h1v2h-1zM245,177h1v1h-1zM224,224h1v3h-1zM225,221h4v2h-4zM261,200h1v2h-1zM268,199h1v1h-1zM263,188h1v2h-1zM235,191h2v1h-2zM237,215h2v2h-2zM241,197h2v2h-2zM231,188h1v2h-1zM240,193h1v1h-1zM224,224h2v1h-2zM255,223h3v4h-3zM238,200h1v2h-1zM259,219h2v1h-2zM226,213h1v2h-1zM243,191h1v2h-1zM239,225h1v2h-1zM232,199h2v1h-2zM260,226h1v1h-1zM232,192h2v4h-2zM252,205h1v1h-1zM254,182h1v2h-1zM247,216h3v4h-3zM228,192h1v2h-1zM245,216h3v3h-3zM248,213h2v3h-2zM251,218h2v3h-2zM255,209h1v3h-1zM226,216h3v3h-3zM246,179h2v3h-2zM223,225h1v1h-1zM239,213h3v1h-3zM240,225h1v1h-1zM239,199h1v3h-1zM244,187h3v2h-3zM246,192h3v4h-3zM247,180h2v3h-2zM261,186h3v1h-3zM250,211h2v1h-2zM231,208h2v1h-2zM249,206h4v3h-4z" fill="#80b300"/>
<polyline points="228.4,185.0 258.2,186.0" fill="none" stroke="#80b300" stroke-width="1.5"/>
<rect x="239.6" y="191.6" width="18.7" height="9.3" fill="#80b300"/>
<rect x="241.4" y="214.0" width="14.9" height="5.6" fill="#80b300"/>
<rect x="155.6" y="191.6" width="8.4" height="18.7" fill="#e6e6ff"/>
<rect x="165.9" y="193.4" width="6.5" height="16.8" fill="#e6e6ff"/>
<rect x="179.9" y="197.2" width="14.9" height="20.5" fill="#e6e6ff"/>
<rect x="196.6" y="199.0" width="9.3" height="16.8" fill="#e6e6ff"/>
<rect x="207.8" y="197.2" width="6.5" height="18.7" fill="#e6e6ff"/>
<rect x="186.4" y="208.4" width="3.7" height="4.7" fill="#80b300"/>
<polygon points="150.0,212.1 174.3,212.1 174.3,230.0 150.0,230.0" fill="#e6e6ff"/>
<path d="M151,228h1v1h-1zM161,223h2v1h-2zM155,216h1v3h-1zM153,222h1v2h-1zM168,228h3v1h-3zM162,227h2v4h-2zM168,224h1v2h-1zM172,227h4v3h-4zM161,228h3v1h-3zM169,226h1v3h-1zM166,218h2v2h-2zM166,218h2v2h-2zM164,216h2v2h-2zM161,213h3v1h-3zM161,226h1v1h-1zM168,220h1v2h-1zM153,220h4v2h-4zM163,221h1v4h-1zM157,229h1v1h-1zM151,225h1v1h-1zM152,213h3v4h-3zM173,225h1v1h-1zM171,224h1v2h-1zM161,225h4v4h-4zM165,218h2v1h-2zM168,228h2v1h-2zM170,223h3v4h-3zM170,214h3v1h-3zM166,219h2v2h-2zM165,229h3v1h-3zM150,221h1v2h-1zM154,218h1v2h-1zM162,213h4v4h-4z" fill="#80b300"/>
<path d="M192,225h2v2h-2zM206,226h1v3h-1zM188,226h1v3h-1zM191,219h4v3h-4zM195,219h2v2h-2zM197,221h3v1h-3zM180,222h4v2h-4zM206,225h1v4h-1zM191,220h2v2h-2zM209,223h4v3h-4zM192,228h2v2h-2zM189,224h2v2h-2zM196,218h2v1h-2zM204,226h1v1h-1zM203,224h1v3h-1zM208,220h1v2h-1zM186,227h1v1h-1zM207,228h1v1h-1zM206,226h2v1h-2zM214,221h2v1h-2zM192,219h1v1h-1zM195,222h3v2h-3zM197,227h2v3h-2zM202,222h1v3h-1zM197,223h2v1h-2zM193,225h1v1h-1zM180,227h2v3h-2zM207,220h1v2h-1zM181,220h3v1h-3zM192,222h2v2h-2zM190,218h2v4h-2zM201,226h1v3h-1zM184,219h1v2h-1zM207,220h3v3h-3zM193,225h4v2h-4zM175,222h2v2h-2z" fill="#e6e6ff"/>
<rect x="150.0" y="187.8" width="5.6" height="24.3" fill="#80b300"/>
<polygon points="254.5,230.0 270.0,223.3 270.0,230.0" fill="#9999ff"/>
</g>
<clipPath id="t20"><rect x="130.0" y="220.0" width="120.0" height="100.0"/></clipPath><g clip-path="url(#t20)">
<polygon points="234.5,229.3 241.9,226.5 250.0,222.8 250.0,227.5 241.9,231.2 234.5,234.9 223.3,240.5 214.0,248.0 206.5,257.3 200.9,266.6 197.5,266.6 201.8,255.4 208.4,246.1 219.6,236.8" fill="#80b300"/>
<path d="M208,242h1v1h-1zM206,253h2v3h-2zM222,240h1v1h-1zM207,250h1v2h-1zM215,235h4v2h-4zM222,234h3v4h-3zM222,239h1v1h-1zM211,243h1v4h-1zM214,230h3v2h-3zM228,229h1v4h-1zM217,237h4v2h-4zM228,234h1v1h-1zM200,241h1v1h-1zM200,241h3v4h-3zM211,247h2v2h-2zM201,260h3v2h-3zM204,234h3v2h-3zM215,237h2v2h-2zM231,232h1v1h-1zM218,232h3v1h-3zM197,251h1v3h-1zM218,237h3v2h-3zM196,255h1v3h-1zM196,252h1v1h-1zM213,234h2v1h-2zM226,234h1v4h-1zM196,251h1v1h-1zM199,249h2v2h-2zM222,234h4v2h-4zM205,243h1v3h-1zM208,233h1v2h-1zM217,234h2v4h-2zM207,249h3v1h-3zM209,237h1v1h-1zM210,230h2v3h-2zM219,239h4v1h-4zM209,238h2v1h-2zM216,241h2v1h-2zM227,229h1v1h-1zM212,244h2v1h-2zM199,252h4v3h-4zM207,252h3v1h-3zM204,250h3v4h-3zM195,251h3v1h-3zM209,248h1v1h-1zM198,242h4v4h-4zM206,241h1v1h-1zM202,252h2v2h-2zM205,236h1v1h-1zM213,231h2v2h-2zM213,242h3v2h-3zM209,238h1v1h-1zM216,245h1v2h-1zM195,245h3v1h-3zM201,231h2v2h-2zM195,253h1v1h-1zM196,262h1v3h-1zM207,250h1v2h-1zM194,259h1v3h-1zM219,240h3v1h-3zM201,232h3v4h-3z" fill="#80b300"/>
<polygon points="130.0,245.2 137.5,245.2 144.0,248.0 148.7,254.5 153.3,266.6 152.0,276.0 141.2,283.4 130.0,294.6" fill="#e6e6ff"/>
<polyline points="153.3,277.8 141.2,289.0 130.0,300.6" fill="none" stroke="#80b300" stroke-width="2.0"/>
</g>
</g>
<rect x="60.5" y="29.5" width="496.0" height="456.9" fill="none" stroke="#000" stroke-width="1" shape-rendering="crispEdges"/>
<line x1="55.3" x2="60.5" y1="29.6" y2="29.6" stroke="#000" stroke-width="1"/>
<text x="49.8" y="35.2" font-size="13.6" text-anchor="end">49.20</text>
<line x1="55.3" x2="60.5" y1="100.9" y2="100.9" stroke="#000" stroke-width="1"/>
<text x="49.8" y="106.5" font-size="13.6" text-anchor="end">49.15</text>
<line x1="55.3" x2="60.5" y1="172.2" y2="172.2" stroke="#000" stroke-width="1"/>
<text x="49.8" y="177.79999999999998" font-size="13.6" text-anchor="end">49.10</text>
<line x1="55.3" x2="60.5" y1="243.5" y2="243.5" stroke="#000" stroke-width="1"/>
<text x="49.8" y="249.1" font-size="13.6" text-anchor="end">49.05</text>
<line x1="55.3" x2="60.5" y1="314.8" y2="314.8" stroke="#000" stroke-width="1"/>
<text x="49.8" y="320.40000000000003" font-size="13.6" text-anchor="end">49.00</text>
<line x1="55.3" x2="60.5" y1="386.0" y2="386.0" stroke="#000" stroke-width="1"/>
<text x="49.8" y="391.6" font-size="13.6" text-anchor="end">48.95</text>
<line x1="55.3" x2="60.5" y1="457.3" y2="457.3" stroke="#000" stroke-width="1"/>
<text x="49.8" y="462.90000000000003" font-size="13.6" text-anchor="end">48.90</text>
<line x1="60.5" x2="60.5" y1="486.4" y2="491.59999999999997" stroke="#000" stroke-width="1"/>
<text font-size="13.6" text-anchor="end" transform="translate(83.7,505.2) rotate(-20)">−123.2</text>
<line x1="155.9" x2="155.9" y1="486.4" y2="491.59999999999997" stroke="#000" stroke-width="1"/>
<text font-size="13.6" text-anchor="end" transform="translate(179.1,505.2) rotate(-20)">−123.1</text>
<line x1="251.3" x2="251.3" y1="486.4" y2="491.59999999999997" stroke="#000" stroke-width="1"/>
<text font-size="13.6" text-anchor="end" transform="translate(274.5,505.2) rotate(-20)">−123.0</text>
<line x1="346.7" x2="346.7" y1="486.4" y2="491.59999999999997" stroke="#000" stroke-width="1"/>
<text font-size="13.6" text-anchor="end" transform="translate(369.9,505.2) rotate(-20)">−122.9</text>
<line x1="442.1" x2="442.1" y1="486.4" y2="491.59999999999997" stroke="#000" stroke-width="1"/>
<text font-size="13.6" text-anchor="end" transform="translate(465.3,505.2) rotate(-20)">−122.8</text>
<line x1="537.5" x2="537.5" y1="486.4" y2="491.59999999999997" stroke="#000" stroke-width="1"/>
<text font-size="13.6" text-anchor="end" transform="translate(560.7,505.2) rotate(-20)">−122.7</text>
<text x="307.4" y="21.5" font-size="16.67" text-anchor="middle">13:00:00 after earthquake</text>
<rect x="586.5" y="87.10" width="18.0" height="45.20" fill="#ff0000" shape-rendering="crispEdges"/>
<rect x="586.5" y="132.00" width="18.0" height="45.20" fill="#ff4d4d" shape-rendering="crispEdges"/>
<rect x="586.5" y="176.90" width="18.0" height="45.20" fill="#ff9999" shape-rendering="crispEdges"/>
<rect x="586.5" y="221.80" width="18.0" height="45.20" fill="#ffcccc" shape-rendering="crispEdges"/>
<rect x="586.5" y="266.70" width="18.0" height="45.20" fill="#0000ff" shape-rendering="crispEdges"/>
<rect x="586.5" y="311.60" width="18.0" height="45.20" fill="#4d4dff" shape-rendering="crispEdges"/>
<rect x="586.5" y="356.50" width="18.0" height="45.20" fill="#9999ff" shape-rendering="crispEdges"/>
<rect x="586.5" y="401.40" width="18.0" height="45.20" fill="#e6e6ff" shape-rendering="crispEdges"/>
<polygon points="586.5,87.1 595.5,68.6 604.5,87.1" fill="#ff00ff"/>
<path d="M586.5,446.3 L586.5,87.1 L595.5,68.6 L604.5,87.1 L604.5,446.3 Z" fill="none" stroke="#000" stroke-width="1"/>
<line x1="604.5" x2="609.9" y1="87.10" y2="87.10" stroke="#000" stroke-width="1"/>
<text x="614.6" y="92.90" font-size="13.5">6.0</text>
<line x1="604.5" x2="609.9" y1="132.00" y2="132.00" stroke="#000" stroke-width="1"/>
<text x="614.6" y="137.80" font-size="13.5">4.5</text>
<line x1="604.5" x2="609.9" y1="176.90" y2="176.90" stroke="#000" stroke-width="1"/>
<text x="614.6" y="182.70" font-size="13.5">3.0</text>
<line x1="604.5" x2="609.9" y1="221.80" y2="221.80" stroke="#000" stroke-width="1"/>
<text x="614.6" y="227.60" font-size="13.5">2.5</text>
<line x1="604.5" x2="609.9" y1="266.70" y2="266.70" stroke="#000" stroke-width="1"/>
<text x="614.6" y="272.50" font-size="13.5">2.0</text>
<line x1="604.5" x2="609.9" y1="311.60" y2="311.60" stroke="#000" stroke-width="1"/>
<text x="614.6" y="317.40" font-size="13.5">1.5</text>
<line x1="604.5" x2="609.9" y1="356.50" y2="356.50" stroke="#000" stroke-width="1"/>
<text x="614.6" y="362.30" font-size="13.5">1.0</text>
<line x1="604.5" x2="609.9" y1="401.40" y2="401.40" stroke="#000" stroke-width="1"/>
<text x="614.6" y="407.20" font-size="13.5">0.5</text>
<line x1="604.5" x2="609.9" y1="446.30" y2="446.30" stroke="#000" stroke-width="1"/>
<text x="614.6" y="452.10" font-size="13.5">0.0</text>
</svg></body></html>
